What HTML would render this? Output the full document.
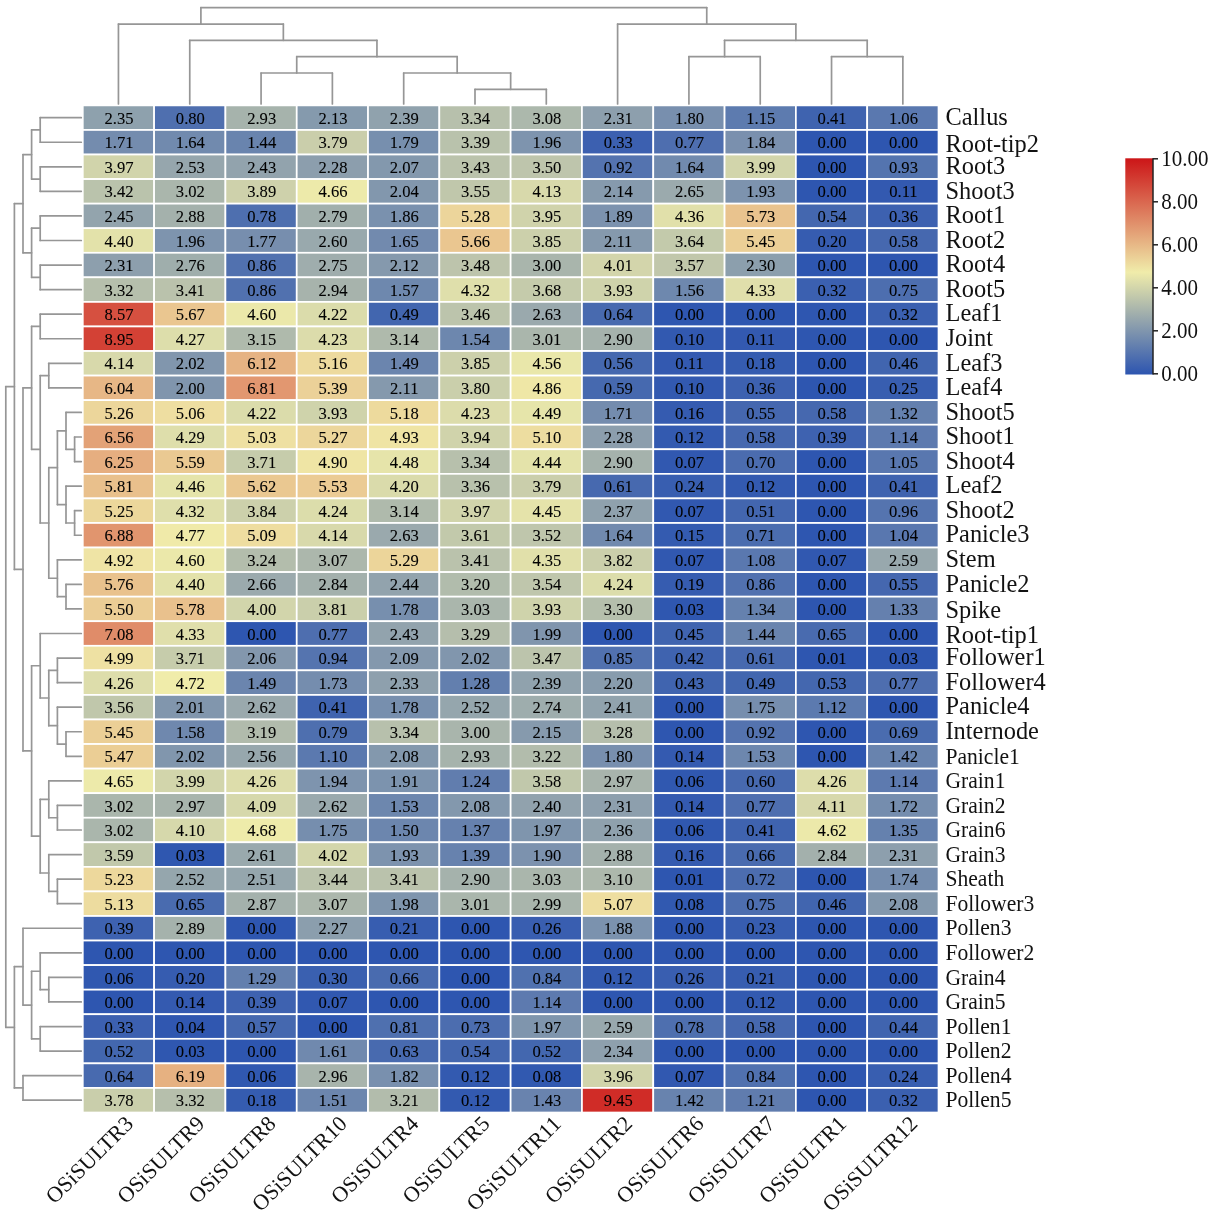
<!DOCTYPE html>
<html><head><meta charset="utf-8"><title>Heatmap</title>
<style>html,body{margin:0;padding:0;background:#fff}svg{display:block;will-change:transform}</style></head>
<body>
<svg width="1214" height="1217" viewBox="0 0 1214 1217" font-family="'Liberation Serif', serif">
<rect width="1214" height="1217" fill="#fff"/>
<g stroke="#fff" stroke-width="1.70">
<rect x="82.80" y="105.40" width="71.31" height="24.56" fill="#8ea1ad"/>
<rect x="154.11" y="105.40" width="71.31" height="24.56" fill="#4f6faf"/>
<rect x="225.42" y="105.40" width="71.31" height="24.56" fill="#a6b3ac"/>
<rect x="296.73" y="105.40" width="71.31" height="24.56" fill="#859aad"/>
<rect x="368.03" y="105.40" width="71.31" height="24.56" fill="#90a2ad"/>
<rect x="439.34" y="105.40" width="71.31" height="24.56" fill="#b7c0ac"/>
<rect x="510.65" y="105.40" width="71.31" height="24.56" fill="#acb8ac"/>
<rect x="581.96" y="105.40" width="71.31" height="24.56" fill="#8d9fad"/>
<rect x="653.27" y="105.40" width="71.31" height="24.56" fill="#788fae"/>
<rect x="724.58" y="105.40" width="71.31" height="24.56" fill="#5d7baf"/>
<rect x="795.88" y="105.40" width="71.31" height="24.56" fill="#3f63af"/>
<rect x="867.19" y="105.40" width="71.31" height="24.56" fill="#5a78af"/>
<rect x="82.80" y="129.96" width="71.31" height="24.56" fill="#748cae"/>
<rect x="154.11" y="129.96" width="71.31" height="24.56" fill="#718aae"/>
<rect x="225.42" y="129.96" width="71.31" height="24.56" fill="#6984ae"/>
<rect x="296.73" y="129.96" width="71.31" height="24.56" fill="#caceab"/>
<rect x="368.03" y="129.96" width="71.31" height="24.56" fill="#778fae"/>
<rect x="439.34" y="129.96" width="71.31" height="24.56" fill="#b9c2ac"/>
<rect x="510.65" y="129.96" width="71.31" height="24.56" fill="#7e94ae"/>
<rect x="581.96" y="129.96" width="71.31" height="24.56" fill="#3c60b0"/>
<rect x="653.27" y="129.96" width="71.31" height="24.56" fill="#4e6eaf"/>
<rect x="724.58" y="129.96" width="71.31" height="24.56" fill="#7a90ae"/>
<rect x="795.88" y="129.96" width="71.31" height="24.56" fill="#2e56b0"/>
<rect x="867.19" y="129.96" width="71.31" height="24.56" fill="#2e56b0"/>
<rect x="82.80" y="154.53" width="71.31" height="24.56" fill="#d1d4ab"/>
<rect x="154.11" y="154.53" width="71.31" height="24.56" fill="#96a6ad"/>
<rect x="225.42" y="154.53" width="71.31" height="24.56" fill="#92a3ad"/>
<rect x="296.73" y="154.53" width="71.31" height="24.56" fill="#8c9ead"/>
<rect x="368.03" y="154.53" width="71.31" height="24.56" fill="#8398ad"/>
<rect x="439.34" y="154.53" width="71.31" height="24.56" fill="#bbc3ac"/>
<rect x="510.65" y="154.53" width="71.31" height="24.56" fill="#bec5ac"/>
<rect x="581.96" y="154.53" width="71.31" height="24.56" fill="#5473af"/>
<rect x="653.27" y="154.53" width="71.31" height="24.56" fill="#718aae"/>
<rect x="724.58" y="154.53" width="71.31" height="24.56" fill="#d2d5ab"/>
<rect x="795.88" y="154.53" width="71.31" height="24.56" fill="#2e56b0"/>
<rect x="867.19" y="154.53" width="71.31" height="24.56" fill="#5474af"/>
<rect x="82.80" y="179.09" width="71.31" height="24.56" fill="#bac3ac"/>
<rect x="154.11" y="179.09" width="71.31" height="24.56" fill="#aab6ac"/>
<rect x="225.42" y="179.09" width="71.31" height="24.56" fill="#ced1ab"/>
<rect x="296.73" y="179.09" width="71.31" height="24.56" fill="#edeaaa"/>
<rect x="368.03" y="179.09" width="71.31" height="24.56" fill="#8297ad"/>
<rect x="439.34" y="179.09" width="71.31" height="24.56" fill="#c0c7ab"/>
<rect x="510.65" y="179.09" width="71.31" height="24.56" fill="#d8d9ab"/>
<rect x="581.96" y="179.09" width="71.31" height="24.56" fill="#869aad"/>
<rect x="653.27" y="179.09" width="71.31" height="24.56" fill="#9baaad"/>
<rect x="724.58" y="179.09" width="71.31" height="24.56" fill="#7d93ae"/>
<rect x="795.88" y="179.09" width="71.31" height="24.56" fill="#2e56b0"/>
<rect x="867.19" y="179.09" width="71.31" height="24.56" fill="#3359b0"/>
<rect x="82.80" y="203.65" width="71.31" height="24.56" fill="#93a4ad"/>
<rect x="154.11" y="203.65" width="71.31" height="24.56" fill="#a4b1ac"/>
<rect x="225.42" y="203.65" width="71.31" height="24.56" fill="#4e6faf"/>
<rect x="296.73" y="203.65" width="71.31" height="24.56" fill="#a1afac"/>
<rect x="368.03" y="203.65" width="71.31" height="24.56" fill="#7a91ae"/>
<rect x="439.34" y="203.65" width="71.31" height="24.56" fill="#ecd59b"/>
<rect x="510.65" y="203.65" width="71.31" height="24.56" fill="#d0d3ab"/>
<rect x="581.96" y="203.65" width="71.31" height="24.56" fill="#7c92ae"/>
<rect x="653.27" y="203.65" width="71.31" height="24.56" fill="#e1e0aa"/>
<rect x="724.58" y="203.65" width="71.31" height="24.56" fill="#e9c38e"/>
<rect x="795.88" y="203.65" width="71.31" height="24.56" fill="#4467af"/>
<rect x="867.19" y="203.65" width="71.31" height="24.56" fill="#3d61b0"/>
<rect x="82.80" y="228.22" width="71.31" height="24.56" fill="#e3e2aa"/>
<rect x="154.11" y="228.22" width="71.31" height="24.56" fill="#7e94ae"/>
<rect x="225.42" y="228.22" width="71.31" height="24.56" fill="#778eae"/>
<rect x="296.73" y="228.22" width="71.31" height="24.56" fill="#99a9ad"/>
<rect x="368.03" y="228.22" width="71.31" height="24.56" fill="#728aae"/>
<rect x="439.34" y="228.22" width="71.31" height="24.56" fill="#eac690"/>
<rect x="510.65" y="228.22" width="71.31" height="24.56" fill="#ccd0ab"/>
<rect x="581.96" y="228.22" width="71.31" height="24.56" fill="#8599ad"/>
<rect x="653.27" y="228.22" width="71.31" height="24.56" fill="#c3caab"/>
<rect x="724.58" y="228.22" width="71.31" height="24.56" fill="#ebcf96"/>
<rect x="795.88" y="228.22" width="71.31" height="24.56" fill="#365cb0"/>
<rect x="867.19" y="228.22" width="71.31" height="24.56" fill="#4668af"/>
<rect x="82.80" y="252.78" width="71.31" height="24.56" fill="#8d9fad"/>
<rect x="154.11" y="252.78" width="71.31" height="24.56" fill="#9faeac"/>
<rect x="225.42" y="252.78" width="71.31" height="24.56" fill="#5171af"/>
<rect x="296.73" y="252.78" width="71.31" height="24.56" fill="#9fadad"/>
<rect x="368.03" y="252.78" width="71.31" height="24.56" fill="#8599ad"/>
<rect x="439.34" y="252.78" width="71.31" height="24.56" fill="#bdc4ac"/>
<rect x="510.65" y="252.78" width="71.31" height="24.56" fill="#a9b5ac"/>
<rect x="581.96" y="252.78" width="71.31" height="24.56" fill="#d3d5ab"/>
<rect x="653.27" y="252.78" width="71.31" height="24.56" fill="#c1c7ab"/>
<rect x="724.58" y="252.78" width="71.31" height="24.56" fill="#8c9fad"/>
<rect x="795.88" y="252.78" width="71.31" height="24.56" fill="#2e56b0"/>
<rect x="867.19" y="252.78" width="71.31" height="24.56" fill="#2e56b0"/>
<rect x="82.80" y="277.34" width="71.31" height="24.56" fill="#b6bfac"/>
<rect x="154.11" y="277.34" width="71.31" height="24.56" fill="#bac2ac"/>
<rect x="225.42" y="277.34" width="71.31" height="24.56" fill="#5171af"/>
<rect x="296.73" y="277.34" width="71.31" height="24.56" fill="#a7b3ac"/>
<rect x="368.03" y="277.34" width="71.31" height="24.56" fill="#6e88ae"/>
<rect x="439.34" y="277.34" width="71.31" height="24.56" fill="#dfdfab"/>
<rect x="510.65" y="277.34" width="71.31" height="24.56" fill="#c5cbab"/>
<rect x="581.96" y="277.34" width="71.31" height="24.56" fill="#cfd3ab"/>
<rect x="653.27" y="277.34" width="71.31" height="24.56" fill="#6e88ae"/>
<rect x="724.58" y="277.34" width="71.31" height="24.56" fill="#e0dfab"/>
<rect x="795.88" y="277.34" width="71.31" height="24.56" fill="#3b60b0"/>
<rect x="867.19" y="277.34" width="71.31" height="24.56" fill="#4d6eaf"/>
<rect x="82.80" y="301.91" width="71.31" height="24.56" fill="#d65040"/>
<rect x="154.11" y="301.91" width="71.31" height="24.56" fill="#eac690"/>
<rect x="225.42" y="301.91" width="71.31" height="24.56" fill="#ebe8aa"/>
<rect x="296.73" y="301.91" width="71.31" height="24.56" fill="#dbdcab"/>
<rect x="368.03" y="301.91" width="71.31" height="24.56" fill="#4266af"/>
<rect x="439.34" y="301.91" width="71.31" height="24.56" fill="#bcc4ac"/>
<rect x="510.65" y="301.91" width="71.31" height="24.56" fill="#9aa9ad"/>
<rect x="581.96" y="301.91" width="71.31" height="24.56" fill="#486aaf"/>
<rect x="653.27" y="301.91" width="71.31" height="24.56" fill="#2e56b0"/>
<rect x="724.58" y="301.91" width="71.31" height="24.56" fill="#2e56b0"/>
<rect x="795.88" y="301.91" width="71.31" height="24.56" fill="#2e56b0"/>
<rect x="867.19" y="301.91" width="71.31" height="24.56" fill="#3b60b0"/>
<rect x="82.80" y="326.47" width="71.31" height="24.56" fill="#d34135"/>
<rect x="154.11" y="326.47" width="71.31" height="24.56" fill="#dddeab"/>
<rect x="225.42" y="326.47" width="71.31" height="24.56" fill="#afbaac"/>
<rect x="296.73" y="326.47" width="71.31" height="24.56" fill="#dcdcab"/>
<rect x="368.03" y="326.47" width="71.31" height="24.56" fill="#afbaac"/>
<rect x="439.34" y="326.47" width="71.31" height="24.56" fill="#6d87ae"/>
<rect x="510.65" y="326.47" width="71.31" height="24.56" fill="#aab6ac"/>
<rect x="581.96" y="326.47" width="71.31" height="24.56" fill="#a5b2ac"/>
<rect x="653.27" y="326.47" width="71.31" height="24.56" fill="#3259b0"/>
<rect x="724.58" y="326.47" width="71.31" height="24.56" fill="#3359b0"/>
<rect x="795.88" y="326.47" width="71.31" height="24.56" fill="#2e56b0"/>
<rect x="867.19" y="326.47" width="71.31" height="24.56" fill="#2e56b0"/>
<rect x="82.80" y="351.03" width="71.31" height="24.56" fill="#d8d9ab"/>
<rect x="154.11" y="351.03" width="71.31" height="24.56" fill="#8196ad"/>
<rect x="225.42" y="351.03" width="71.31" height="24.56" fill="#e6b383"/>
<rect x="296.73" y="351.03" width="71.31" height="24.56" fill="#edda9e"/>
<rect x="368.03" y="351.03" width="71.31" height="24.56" fill="#6b85ae"/>
<rect x="439.34" y="351.03" width="71.31" height="24.56" fill="#ccd0ab"/>
<rect x="510.65" y="351.03" width="71.31" height="24.56" fill="#e9e7aa"/>
<rect x="581.96" y="351.03" width="71.31" height="24.56" fill="#4568af"/>
<rect x="653.27" y="351.03" width="71.31" height="24.56" fill="#3359b0"/>
<rect x="724.58" y="351.03" width="71.31" height="24.56" fill="#355cb0"/>
<rect x="795.88" y="351.03" width="71.31" height="24.56" fill="#2e56b0"/>
<rect x="867.19" y="351.03" width="71.31" height="24.56" fill="#4165af"/>
<rect x="82.80" y="375.60" width="71.31" height="24.56" fill="#e7b786"/>
<rect x="154.11" y="375.60" width="71.31" height="24.56" fill="#8095ad"/>
<rect x="225.42" y="375.60" width="71.31" height="24.56" fill="#e29770"/>
<rect x="296.73" y="375.60" width="71.31" height="24.56" fill="#ebd198"/>
<rect x="368.03" y="375.60" width="71.31" height="24.56" fill="#8599ad"/>
<rect x="439.34" y="375.60" width="71.31" height="24.56" fill="#cacfab"/>
<rect x="510.65" y="375.60" width="71.31" height="24.56" fill="#efe7a6"/>
<rect x="581.96" y="375.60" width="71.31" height="24.56" fill="#4669af"/>
<rect x="653.27" y="375.60" width="71.31" height="24.56" fill="#3259b0"/>
<rect x="724.58" y="375.60" width="71.31" height="24.56" fill="#3d61b0"/>
<rect x="795.88" y="375.60" width="71.31" height="24.56" fill="#2e56b0"/>
<rect x="867.19" y="375.60" width="71.31" height="24.56" fill="#385eb0"/>
<rect x="82.80" y="400.16" width="71.31" height="24.56" fill="#ecd69b"/>
<rect x="154.11" y="400.16" width="71.31" height="24.56" fill="#eedea1"/>
<rect x="225.42" y="400.16" width="71.31" height="24.56" fill="#dbdcab"/>
<rect x="296.73" y="400.16" width="71.31" height="24.56" fill="#cfd3ab"/>
<rect x="368.03" y="400.16" width="71.31" height="24.56" fill="#edda9d"/>
<rect x="439.34" y="400.16" width="71.31" height="24.56" fill="#dcdcab"/>
<rect x="510.65" y="400.16" width="71.31" height="24.56" fill="#e6e5aa"/>
<rect x="581.96" y="400.16" width="71.31" height="24.56" fill="#748cae"/>
<rect x="653.27" y="400.16" width="71.31" height="24.56" fill="#355bb0"/>
<rect x="724.58" y="400.16" width="71.31" height="24.56" fill="#4567af"/>
<rect x="795.88" y="400.16" width="71.31" height="24.56" fill="#4668af"/>
<rect x="867.19" y="400.16" width="71.31" height="24.56" fill="#6480ae"/>
<rect x="82.80" y="424.72" width="71.31" height="24.56" fill="#e3a277"/>
<rect x="154.11" y="424.72" width="71.31" height="24.56" fill="#dedeab"/>
<rect x="225.42" y="424.72" width="71.31" height="24.56" fill="#eee0a2"/>
<rect x="296.73" y="424.72" width="71.31" height="24.56" fill="#ecd69b"/>
<rect x="368.03" y="424.72" width="71.31" height="24.56" fill="#efe4a4"/>
<rect x="439.34" y="424.72" width="71.31" height="24.56" fill="#d0d3ab"/>
<rect x="510.65" y="424.72" width="71.31" height="24.56" fill="#eddda0"/>
<rect x="581.96" y="424.72" width="71.31" height="24.56" fill="#8c9ead"/>
<rect x="653.27" y="424.72" width="71.31" height="24.56" fill="#335ab0"/>
<rect x="724.58" y="424.72" width="71.31" height="24.56" fill="#4668af"/>
<rect x="795.88" y="424.72" width="71.31" height="24.56" fill="#3e62b0"/>
<rect x="867.19" y="424.72" width="71.31" height="24.56" fill="#5d7aaf"/>
<rect x="82.80" y="449.29" width="71.31" height="24.56" fill="#e6ae80"/>
<rect x="154.11" y="449.29" width="71.31" height="24.56" fill="#eac992"/>
<rect x="225.42" y="449.29" width="71.31" height="24.56" fill="#c6ccab"/>
<rect x="296.73" y="449.29" width="71.31" height="24.56" fill="#efe5a5"/>
<rect x="368.03" y="449.29" width="71.31" height="24.56" fill="#e6e4aa"/>
<rect x="439.34" y="449.29" width="71.31" height="24.56" fill="#b7c0ac"/>
<rect x="510.65" y="449.29" width="71.31" height="24.56" fill="#e4e3aa"/>
<rect x="581.96" y="449.29" width="71.31" height="24.56" fill="#a5b2ac"/>
<rect x="653.27" y="449.29" width="71.31" height="24.56" fill="#3158b0"/>
<rect x="724.58" y="449.29" width="71.31" height="24.56" fill="#4b6caf"/>
<rect x="795.88" y="449.29" width="71.31" height="24.56" fill="#2e56b0"/>
<rect x="867.19" y="449.29" width="71.31" height="24.56" fill="#5977af"/>
<rect x="82.80" y="473.85" width="71.31" height="24.56" fill="#e9c08c"/>
<rect x="154.11" y="473.85" width="71.31" height="24.56" fill="#e5e4aa"/>
<rect x="225.42" y="473.85" width="71.31" height="24.56" fill="#eac891"/>
<rect x="296.73" y="473.85" width="71.31" height="24.56" fill="#ebcb94"/>
<rect x="368.03" y="473.85" width="71.31" height="24.56" fill="#dadbab"/>
<rect x="439.34" y="473.85" width="71.31" height="24.56" fill="#b8c1ac"/>
<rect x="510.65" y="473.85" width="71.31" height="24.56" fill="#caceab"/>
<rect x="581.96" y="473.85" width="71.31" height="24.56" fill="#4769af"/>
<rect x="653.27" y="473.85" width="71.31" height="24.56" fill="#385eb0"/>
<rect x="724.58" y="473.85" width="71.31" height="24.56" fill="#335ab0"/>
<rect x="795.88" y="473.85" width="71.31" height="24.56" fill="#2e56b0"/>
<rect x="867.19" y="473.85" width="71.31" height="24.56" fill="#3f63af"/>
<rect x="82.80" y="498.41" width="71.31" height="24.56" fill="#ecd79b"/>
<rect x="154.11" y="498.41" width="71.31" height="24.56" fill="#dfdfab"/>
<rect x="225.42" y="498.41" width="71.31" height="24.56" fill="#ccd0ab"/>
<rect x="296.73" y="498.41" width="71.31" height="24.56" fill="#dcddab"/>
<rect x="368.03" y="498.41" width="71.31" height="24.56" fill="#afbaac"/>
<rect x="439.34" y="498.41" width="71.31" height="24.56" fill="#d1d4ab"/>
<rect x="510.65" y="498.41" width="71.31" height="24.56" fill="#e5e3aa"/>
<rect x="581.96" y="498.41" width="71.31" height="24.56" fill="#8fa1ad"/>
<rect x="653.27" y="498.41" width="71.31" height="24.56" fill="#3158b0"/>
<rect x="724.58" y="498.41" width="71.31" height="24.56" fill="#4366af"/>
<rect x="795.88" y="498.41" width="71.31" height="24.56" fill="#2e56b0"/>
<rect x="867.19" y="498.41" width="71.31" height="24.56" fill="#5574af"/>
<rect x="82.80" y="522.98" width="71.31" height="24.56" fill="#e1956e"/>
<rect x="154.11" y="522.98" width="71.31" height="24.56" fill="#f0eaa9"/>
<rect x="225.42" y="522.98" width="71.31" height="24.56" fill="#eedda0"/>
<rect x="296.73" y="522.98" width="71.31" height="24.56" fill="#d8d9ab"/>
<rect x="368.03" y="522.98" width="71.31" height="24.56" fill="#9aa9ad"/>
<rect x="439.34" y="522.98" width="71.31" height="24.56" fill="#c2c9ab"/>
<rect x="510.65" y="522.98" width="71.31" height="24.56" fill="#bfc6ac"/>
<rect x="581.96" y="522.98" width="71.31" height="24.56" fill="#718aae"/>
<rect x="653.27" y="522.98" width="71.31" height="24.56" fill="#345bb0"/>
<rect x="724.58" y="522.98" width="71.31" height="24.56" fill="#4b6daf"/>
<rect x="795.88" y="522.98" width="71.31" height="24.56" fill="#2e56b0"/>
<rect x="867.19" y="522.98" width="71.31" height="24.56" fill="#5977af"/>
<rect x="82.80" y="547.54" width="71.31" height="24.56" fill="#efe4a5"/>
<rect x="154.11" y="547.54" width="71.31" height="24.56" fill="#ebe8aa"/>
<rect x="225.42" y="547.54" width="71.31" height="24.56" fill="#b3bdac"/>
<rect x="296.73" y="547.54" width="71.31" height="24.56" fill="#acb7ac"/>
<rect x="368.03" y="547.54" width="71.31" height="24.56" fill="#ecd59a"/>
<rect x="439.34" y="547.54" width="71.31" height="24.56" fill="#bac2ac"/>
<rect x="510.65" y="547.54" width="71.31" height="24.56" fill="#e1e0aa"/>
<rect x="581.96" y="547.54" width="71.31" height="24.56" fill="#cbcfab"/>
<rect x="653.27" y="547.54" width="71.31" height="24.56" fill="#3158b0"/>
<rect x="724.58" y="547.54" width="71.31" height="24.56" fill="#5a78af"/>
<rect x="795.88" y="547.54" width="71.31" height="24.56" fill="#3158b0"/>
<rect x="867.19" y="547.54" width="71.31" height="24.56" fill="#98a8ad"/>
<rect x="82.80" y="572.10" width="71.31" height="24.56" fill="#e9c28d"/>
<rect x="154.11" y="572.10" width="71.31" height="24.56" fill="#e3e2aa"/>
<rect x="225.42" y="572.10" width="71.31" height="24.56" fill="#9baaad"/>
<rect x="296.73" y="572.10" width="71.31" height="24.56" fill="#a3b0ac"/>
<rect x="368.03" y="572.10" width="71.31" height="24.56" fill="#92a3ad"/>
<rect x="439.34" y="572.10" width="71.31" height="24.56" fill="#b1bcac"/>
<rect x="510.65" y="572.10" width="71.31" height="24.56" fill="#bfc6ac"/>
<rect x="581.96" y="572.10" width="71.31" height="24.56" fill="#dcddab"/>
<rect x="653.27" y="572.10" width="71.31" height="24.56" fill="#365cb0"/>
<rect x="724.58" y="572.10" width="71.31" height="24.56" fill="#5171af"/>
<rect x="795.88" y="572.10" width="71.31" height="24.56" fill="#2e56b0"/>
<rect x="867.19" y="572.10" width="71.31" height="24.56" fill="#4567af"/>
<rect x="82.80" y="596.67" width="71.31" height="24.56" fill="#ebcd95"/>
<rect x="154.11" y="596.67" width="71.31" height="24.56" fill="#e9c18d"/>
<rect x="225.42" y="596.67" width="71.31" height="24.56" fill="#d2d5ab"/>
<rect x="296.73" y="596.67" width="71.31" height="24.56" fill="#cacfab"/>
<rect x="368.03" y="596.67" width="71.31" height="24.56" fill="#778fae"/>
<rect x="439.34" y="596.67" width="71.31" height="24.56" fill="#aab6ac"/>
<rect x="510.65" y="596.67" width="71.31" height="24.56" fill="#cfd3ab"/>
<rect x="581.96" y="596.67" width="71.31" height="24.56" fill="#b5bfac"/>
<rect x="653.27" y="596.67" width="71.31" height="24.56" fill="#2f57b0"/>
<rect x="724.58" y="596.67" width="71.31" height="24.56" fill="#6581ae"/>
<rect x="795.88" y="596.67" width="71.31" height="24.56" fill="#2e56b0"/>
<rect x="867.19" y="596.67" width="71.31" height="24.56" fill="#6580ae"/>
<rect x="82.80" y="621.23" width="71.31" height="24.56" fill="#e08c69"/>
<rect x="154.11" y="621.23" width="71.31" height="24.56" fill="#e0dfab"/>
<rect x="225.42" y="621.23" width="71.31" height="24.56" fill="#2e56b0"/>
<rect x="296.73" y="621.23" width="71.31" height="24.56" fill="#4e6eaf"/>
<rect x="368.03" y="621.23" width="71.31" height="24.56" fill="#92a3ad"/>
<rect x="439.34" y="621.23" width="71.31" height="24.56" fill="#b5beac"/>
<rect x="510.65" y="621.23" width="71.31" height="24.56" fill="#8095ad"/>
<rect x="581.96" y="621.23" width="71.31" height="24.56" fill="#2e56b0"/>
<rect x="653.27" y="621.23" width="71.31" height="24.56" fill="#4064af"/>
<rect x="724.58" y="621.23" width="71.31" height="24.56" fill="#6984ae"/>
<rect x="795.88" y="621.23" width="71.31" height="24.56" fill="#496baf"/>
<rect x="867.19" y="621.23" width="71.31" height="24.56" fill="#2e56b0"/>
<rect x="82.80" y="645.80" width="71.31" height="24.56" fill="#eee1a3"/>
<rect x="154.11" y="645.80" width="71.31" height="24.56" fill="#c6ccab"/>
<rect x="225.42" y="645.80" width="71.31" height="24.56" fill="#8397ad"/>
<rect x="296.73" y="645.80" width="71.31" height="24.56" fill="#5574af"/>
<rect x="368.03" y="645.80" width="71.31" height="24.56" fill="#8498ad"/>
<rect x="439.34" y="645.80" width="71.31" height="24.56" fill="#8196ad"/>
<rect x="510.65" y="645.80" width="71.31" height="24.56" fill="#bcc4ac"/>
<rect x="581.96" y="645.80" width="71.31" height="24.56" fill="#5171af"/>
<rect x="653.27" y="645.80" width="71.31" height="24.56" fill="#3f63af"/>
<rect x="724.58" y="645.80" width="71.31" height="24.56" fill="#4769af"/>
<rect x="795.88" y="645.80" width="71.31" height="24.56" fill="#2e56b0"/>
<rect x="867.19" y="645.80" width="71.31" height="24.56" fill="#2f57b0"/>
<rect x="82.80" y="670.36" width="71.31" height="24.56" fill="#ddddab"/>
<rect x="154.11" y="670.36" width="71.31" height="24.56" fill="#f0ecaa"/>
<rect x="225.42" y="670.36" width="71.31" height="24.56" fill="#6b85ae"/>
<rect x="296.73" y="670.36" width="71.31" height="24.56" fill="#758dae"/>
<rect x="368.03" y="670.36" width="71.31" height="24.56" fill="#8ea0ad"/>
<rect x="439.34" y="670.36" width="71.31" height="24.56" fill="#637fae"/>
<rect x="510.65" y="670.36" width="71.31" height="24.56" fill="#90a2ad"/>
<rect x="581.96" y="670.36" width="71.31" height="24.56" fill="#889cad"/>
<rect x="653.27" y="670.36" width="71.31" height="24.56" fill="#4064af"/>
<rect x="724.58" y="670.36" width="71.31" height="24.56" fill="#4266af"/>
<rect x="795.88" y="670.36" width="71.31" height="24.56" fill="#4467af"/>
<rect x="867.19" y="670.36" width="71.31" height="24.56" fill="#4e6eaf"/>
<rect x="82.80" y="694.92" width="71.31" height="24.56" fill="#c0c7ab"/>
<rect x="154.11" y="694.92" width="71.31" height="24.56" fill="#8196ad"/>
<rect x="225.42" y="694.92" width="71.31" height="24.56" fill="#9aa9ad"/>
<rect x="296.73" y="694.92" width="71.31" height="24.56" fill="#3f63af"/>
<rect x="368.03" y="694.92" width="71.31" height="24.56" fill="#778fae"/>
<rect x="439.34" y="694.92" width="71.31" height="24.56" fill="#95a6ad"/>
<rect x="510.65" y="694.92" width="71.31" height="24.56" fill="#9eadad"/>
<rect x="581.96" y="694.92" width="71.31" height="24.56" fill="#91a3ad"/>
<rect x="653.27" y="694.92" width="71.31" height="24.56" fill="#2e56b0"/>
<rect x="724.58" y="694.92" width="71.31" height="24.56" fill="#768eae"/>
<rect x="795.88" y="694.92" width="71.31" height="24.56" fill="#5c7aaf"/>
<rect x="867.19" y="694.92" width="71.31" height="24.56" fill="#2e56b0"/>
<rect x="82.80" y="719.49" width="71.31" height="24.56" fill="#ebcf96"/>
<rect x="154.11" y="719.49" width="71.31" height="24.56" fill="#6f88ae"/>
<rect x="225.42" y="719.49" width="71.31" height="24.56" fill="#b1bbac"/>
<rect x="296.73" y="719.49" width="71.31" height="24.56" fill="#4e6faf"/>
<rect x="368.03" y="719.49" width="71.31" height="24.56" fill="#b7c0ac"/>
<rect x="439.34" y="719.49" width="71.31" height="24.56" fill="#a9b5ac"/>
<rect x="510.65" y="719.49" width="71.31" height="24.56" fill="#869aad"/>
<rect x="581.96" y="719.49" width="71.31" height="24.56" fill="#b5beac"/>
<rect x="653.27" y="719.49" width="71.31" height="24.56" fill="#2e56b0"/>
<rect x="724.58" y="719.49" width="71.31" height="24.56" fill="#5473af"/>
<rect x="795.88" y="719.49" width="71.31" height="24.56" fill="#2e56b0"/>
<rect x="867.19" y="719.49" width="71.31" height="24.56" fill="#4a6caf"/>
<rect x="82.80" y="744.05" width="71.31" height="24.56" fill="#ebce95"/>
<rect x="154.11" y="744.05" width="71.31" height="24.56" fill="#8196ad"/>
<rect x="225.42" y="744.05" width="71.31" height="24.56" fill="#97a7ad"/>
<rect x="296.73" y="744.05" width="71.31" height="24.56" fill="#5b79af"/>
<rect x="368.03" y="744.05" width="71.31" height="24.56" fill="#8398ad"/>
<rect x="439.34" y="744.05" width="71.31" height="24.56" fill="#a6b3ac"/>
<rect x="510.65" y="744.05" width="71.31" height="24.56" fill="#b2bcac"/>
<rect x="581.96" y="744.05" width="71.31" height="24.56" fill="#788fae"/>
<rect x="653.27" y="744.05" width="71.31" height="24.56" fill="#345ab0"/>
<rect x="724.58" y="744.05" width="71.31" height="24.56" fill="#6d87ae"/>
<rect x="795.88" y="744.05" width="71.31" height="24.56" fill="#2e56b0"/>
<rect x="867.19" y="744.05" width="71.31" height="24.56" fill="#6883ae"/>
<rect x="82.80" y="768.61" width="71.31" height="24.56" fill="#edeaaa"/>
<rect x="154.11" y="768.61" width="71.31" height="24.56" fill="#d2d5ab"/>
<rect x="225.42" y="768.61" width="71.31" height="24.56" fill="#ddddab"/>
<rect x="296.73" y="768.61" width="71.31" height="24.56" fill="#7e94ae"/>
<rect x="368.03" y="768.61" width="71.31" height="24.56" fill="#7c93ae"/>
<rect x="439.34" y="768.61" width="71.31" height="24.56" fill="#617dae"/>
<rect x="510.65" y="768.61" width="71.31" height="24.56" fill="#c1c8ab"/>
<rect x="581.96" y="768.61" width="71.31" height="24.56" fill="#a8b4ac"/>
<rect x="653.27" y="768.61" width="71.31" height="24.56" fill="#3058b0"/>
<rect x="724.58" y="768.61" width="71.31" height="24.56" fill="#4769af"/>
<rect x="795.88" y="768.61" width="71.31" height="24.56" fill="#ddddab"/>
<rect x="867.19" y="768.61" width="71.31" height="24.56" fill="#5d7aaf"/>
<rect x="82.80" y="793.18" width="71.31" height="24.56" fill="#aab6ac"/>
<rect x="154.11" y="793.18" width="71.31" height="24.56" fill="#a8b4ac"/>
<rect x="225.42" y="793.18" width="71.31" height="24.56" fill="#d6d8ab"/>
<rect x="296.73" y="793.18" width="71.31" height="24.56" fill="#9aa9ad"/>
<rect x="368.03" y="793.18" width="71.31" height="24.56" fill="#6d87ae"/>
<rect x="439.34" y="793.18" width="71.31" height="24.56" fill="#8398ad"/>
<rect x="510.65" y="793.18" width="71.31" height="24.56" fill="#91a2ad"/>
<rect x="581.96" y="793.18" width="71.31" height="24.56" fill="#8d9fad"/>
<rect x="653.27" y="793.18" width="71.31" height="24.56" fill="#345ab0"/>
<rect x="724.58" y="793.18" width="71.31" height="24.56" fill="#4e6eaf"/>
<rect x="795.88" y="793.18" width="71.31" height="24.56" fill="#d7d8ab"/>
<rect x="867.19" y="793.18" width="71.31" height="24.56" fill="#758dae"/>
<rect x="82.80" y="817.74" width="71.31" height="24.56" fill="#aab6ac"/>
<rect x="154.11" y="817.74" width="71.31" height="24.56" fill="#d6d8ab"/>
<rect x="225.42" y="817.74" width="71.31" height="24.56" fill="#eeebaa"/>
<rect x="296.73" y="817.74" width="71.31" height="24.56" fill="#768eae"/>
<rect x="368.03" y="817.74" width="71.31" height="24.56" fill="#6c86ae"/>
<rect x="439.34" y="817.74" width="71.31" height="24.56" fill="#6681ae"/>
<rect x="510.65" y="817.74" width="71.31" height="24.56" fill="#7f95ad"/>
<rect x="581.96" y="817.74" width="71.31" height="24.56" fill="#8fa1ad"/>
<rect x="653.27" y="817.74" width="71.31" height="24.56" fill="#3058b0"/>
<rect x="724.58" y="817.74" width="71.31" height="24.56" fill="#3f63af"/>
<rect x="795.88" y="817.74" width="71.31" height="24.56" fill="#ece9aa"/>
<rect x="867.19" y="817.74" width="71.31" height="24.56" fill="#6581ae"/>
<rect x="82.80" y="842.30" width="71.31" height="24.56" fill="#c1c8ab"/>
<rect x="154.11" y="842.30" width="71.31" height="24.56" fill="#2f57b0"/>
<rect x="225.42" y="842.30" width="71.31" height="24.56" fill="#99a9ad"/>
<rect x="296.73" y="842.30" width="71.31" height="24.56" fill="#d3d6ab"/>
<rect x="368.03" y="842.30" width="71.31" height="24.56" fill="#7d93ae"/>
<rect x="439.34" y="842.30" width="71.31" height="24.56" fill="#6782ae"/>
<rect x="510.65" y="842.30" width="71.31" height="24.56" fill="#7c92ae"/>
<rect x="581.96" y="842.30" width="71.31" height="24.56" fill="#a4b1ac"/>
<rect x="653.27" y="842.30" width="71.31" height="24.56" fill="#355bb0"/>
<rect x="724.58" y="842.30" width="71.31" height="24.56" fill="#496baf"/>
<rect x="795.88" y="842.30" width="71.31" height="24.56" fill="#a3b0ac"/>
<rect x="867.19" y="842.30" width="71.31" height="24.56" fill="#8d9fad"/>
<rect x="82.80" y="866.87" width="71.31" height="24.56" fill="#edd89c"/>
<rect x="154.11" y="866.87" width="71.31" height="24.56" fill="#95a6ad"/>
<rect x="225.42" y="866.87" width="71.31" height="24.56" fill="#95a6ad"/>
<rect x="296.73" y="866.87" width="71.31" height="24.56" fill="#bbc3ac"/>
<rect x="368.03" y="866.87" width="71.31" height="24.56" fill="#bac2ac"/>
<rect x="439.34" y="866.87" width="71.31" height="24.56" fill="#a5b2ac"/>
<rect x="510.65" y="866.87" width="71.31" height="24.56" fill="#aab6ac"/>
<rect x="581.96" y="866.87" width="71.31" height="24.56" fill="#adb8ac"/>
<rect x="653.27" y="866.87" width="71.31" height="24.56" fill="#2e56b0"/>
<rect x="724.58" y="866.87" width="71.31" height="24.56" fill="#4c6daf"/>
<rect x="795.88" y="866.87" width="71.31" height="24.56" fill="#2e56b0"/>
<rect x="867.19" y="866.87" width="71.31" height="24.56" fill="#758dae"/>
<rect x="82.80" y="891.43" width="71.31" height="24.56" fill="#eddc9f"/>
<rect x="154.11" y="891.43" width="71.31" height="24.56" fill="#496baf"/>
<rect x="225.42" y="891.43" width="71.31" height="24.56" fill="#a4b1ac"/>
<rect x="296.73" y="891.43" width="71.31" height="24.56" fill="#acb7ac"/>
<rect x="368.03" y="891.43" width="71.31" height="24.56" fill="#7f95ad"/>
<rect x="439.34" y="891.43" width="71.31" height="24.56" fill="#aab6ac"/>
<rect x="510.65" y="891.43" width="71.31" height="24.56" fill="#a9b5ac"/>
<rect x="581.96" y="891.43" width="71.31" height="24.56" fill="#eedea0"/>
<rect x="653.27" y="891.43" width="71.31" height="24.56" fill="#3159b0"/>
<rect x="724.58" y="891.43" width="71.31" height="24.56" fill="#4d6eaf"/>
<rect x="795.88" y="891.43" width="71.31" height="24.56" fill="#4165af"/>
<rect x="867.19" y="891.43" width="71.31" height="24.56" fill="#8398ad"/>
<rect x="82.80" y="915.99" width="71.31" height="24.56" fill="#3e62b0"/>
<rect x="154.11" y="915.99" width="71.31" height="24.56" fill="#a5b2ac"/>
<rect x="225.42" y="915.99" width="71.31" height="24.56" fill="#2e56b0"/>
<rect x="296.73" y="915.99" width="71.31" height="24.56" fill="#8b9ead"/>
<rect x="368.03" y="915.99" width="71.31" height="24.56" fill="#375db0"/>
<rect x="439.34" y="915.99" width="71.31" height="24.56" fill="#2e56b0"/>
<rect x="510.65" y="915.99" width="71.31" height="24.56" fill="#395eb0"/>
<rect x="581.96" y="915.99" width="71.31" height="24.56" fill="#7b92ae"/>
<rect x="653.27" y="915.99" width="71.31" height="24.56" fill="#2e56b0"/>
<rect x="724.58" y="915.99" width="71.31" height="24.56" fill="#375db0"/>
<rect x="795.88" y="915.99" width="71.31" height="24.56" fill="#2e56b0"/>
<rect x="867.19" y="915.99" width="71.31" height="24.56" fill="#2e56b0"/>
<rect x="82.80" y="940.56" width="71.31" height="24.56" fill="#2e56b0"/>
<rect x="154.11" y="940.56" width="71.31" height="24.56" fill="#2e56b0"/>
<rect x="225.42" y="940.56" width="71.31" height="24.56" fill="#2e56b0"/>
<rect x="296.73" y="940.56" width="71.31" height="24.56" fill="#2e56b0"/>
<rect x="368.03" y="940.56" width="71.31" height="24.56" fill="#2e56b0"/>
<rect x="439.34" y="940.56" width="71.31" height="24.56" fill="#2e56b0"/>
<rect x="510.65" y="940.56" width="71.31" height="24.56" fill="#2e56b0"/>
<rect x="581.96" y="940.56" width="71.31" height="24.56" fill="#2e56b0"/>
<rect x="653.27" y="940.56" width="71.31" height="24.56" fill="#2e56b0"/>
<rect x="724.58" y="940.56" width="71.31" height="24.56" fill="#2e56b0"/>
<rect x="795.88" y="940.56" width="71.31" height="24.56" fill="#2e56b0"/>
<rect x="867.19" y="940.56" width="71.31" height="24.56" fill="#2e56b0"/>
<rect x="82.80" y="965.12" width="71.31" height="24.56" fill="#3058b0"/>
<rect x="154.11" y="965.12" width="71.31" height="24.56" fill="#365cb0"/>
<rect x="225.42" y="965.12" width="71.31" height="24.56" fill="#637fae"/>
<rect x="296.73" y="965.12" width="71.31" height="24.56" fill="#3a60b0"/>
<rect x="368.03" y="965.12" width="71.31" height="24.56" fill="#496baf"/>
<rect x="439.34" y="965.12" width="71.31" height="24.56" fill="#2e56b0"/>
<rect x="510.65" y="965.12" width="71.31" height="24.56" fill="#5071af"/>
<rect x="581.96" y="965.12" width="71.31" height="24.56" fill="#335ab0"/>
<rect x="653.27" y="965.12" width="71.31" height="24.56" fill="#395eb0"/>
<rect x="724.58" y="965.12" width="71.31" height="24.56" fill="#375db0"/>
<rect x="795.88" y="965.12" width="71.31" height="24.56" fill="#2e56b0"/>
<rect x="867.19" y="965.12" width="71.31" height="24.56" fill="#2e56b0"/>
<rect x="82.80" y="989.68" width="71.31" height="24.56" fill="#2e56b0"/>
<rect x="154.11" y="989.68" width="71.31" height="24.56" fill="#345ab0"/>
<rect x="225.42" y="989.68" width="71.31" height="24.56" fill="#3e62b0"/>
<rect x="296.73" y="989.68" width="71.31" height="24.56" fill="#3158b0"/>
<rect x="368.03" y="989.68" width="71.31" height="24.56" fill="#2e56b0"/>
<rect x="439.34" y="989.68" width="71.31" height="24.56" fill="#2e56b0"/>
<rect x="510.65" y="989.68" width="71.31" height="24.56" fill="#5d7aaf"/>
<rect x="581.96" y="989.68" width="71.31" height="24.56" fill="#2e56b0"/>
<rect x="653.27" y="989.68" width="71.31" height="24.56" fill="#2e56b0"/>
<rect x="724.58" y="989.68" width="71.31" height="24.56" fill="#335ab0"/>
<rect x="795.88" y="989.68" width="71.31" height="24.56" fill="#2e56b0"/>
<rect x="867.19" y="989.68" width="71.31" height="24.56" fill="#2e56b0"/>
<rect x="82.80" y="1014.25" width="71.31" height="24.56" fill="#3c60b0"/>
<rect x="154.11" y="1014.25" width="71.31" height="24.56" fill="#3057b0"/>
<rect x="225.42" y="1014.25" width="71.31" height="24.56" fill="#4568af"/>
<rect x="296.73" y="1014.25" width="71.31" height="24.56" fill="#2e56b0"/>
<rect x="368.03" y="1014.25" width="71.31" height="24.56" fill="#4f70af"/>
<rect x="439.34" y="1014.25" width="71.31" height="24.56" fill="#4c6daf"/>
<rect x="510.65" y="1014.25" width="71.31" height="24.56" fill="#7f95ad"/>
<rect x="581.96" y="1014.25" width="71.31" height="24.56" fill="#98a8ad"/>
<rect x="653.27" y="1014.25" width="71.31" height="24.56" fill="#4e6faf"/>
<rect x="724.58" y="1014.25" width="71.31" height="24.56" fill="#4668af"/>
<rect x="795.88" y="1014.25" width="71.31" height="24.56" fill="#2e56b0"/>
<rect x="867.19" y="1014.25" width="71.31" height="24.56" fill="#4064af"/>
<rect x="82.80" y="1038.81" width="71.31" height="24.56" fill="#4367af"/>
<rect x="154.11" y="1038.81" width="71.31" height="24.56" fill="#2f57b0"/>
<rect x="225.42" y="1038.81" width="71.31" height="24.56" fill="#2e56b0"/>
<rect x="296.73" y="1038.81" width="71.31" height="24.56" fill="#7089ae"/>
<rect x="368.03" y="1038.81" width="71.31" height="24.56" fill="#486aaf"/>
<rect x="439.34" y="1038.81" width="71.31" height="24.56" fill="#4467af"/>
<rect x="510.65" y="1038.81" width="71.31" height="24.56" fill="#4367af"/>
<rect x="581.96" y="1038.81" width="71.31" height="24.56" fill="#8ea0ad"/>
<rect x="653.27" y="1038.81" width="71.31" height="24.56" fill="#2e56b0"/>
<rect x="724.58" y="1038.81" width="71.31" height="24.56" fill="#2e56b0"/>
<rect x="795.88" y="1038.81" width="71.31" height="24.56" fill="#2e56b0"/>
<rect x="867.19" y="1038.81" width="71.31" height="24.56" fill="#2e56b0"/>
<rect x="82.80" y="1063.37" width="71.31" height="24.56" fill="#486aaf"/>
<rect x="154.11" y="1063.37" width="71.31" height="24.56" fill="#e6b181"/>
<rect x="225.42" y="1063.37" width="71.31" height="24.56" fill="#3058b0"/>
<rect x="296.73" y="1063.37" width="71.31" height="24.56" fill="#a8b4ac"/>
<rect x="368.03" y="1063.37" width="71.31" height="24.56" fill="#7990ae"/>
<rect x="439.34" y="1063.37" width="71.31" height="24.56" fill="#335ab0"/>
<rect x="510.65" y="1063.37" width="71.31" height="24.56" fill="#3159b0"/>
<rect x="581.96" y="1063.37" width="71.31" height="24.56" fill="#d1d4ab"/>
<rect x="653.27" y="1063.37" width="71.31" height="24.56" fill="#3158b0"/>
<rect x="724.58" y="1063.37" width="71.31" height="24.56" fill="#5071af"/>
<rect x="795.88" y="1063.37" width="71.31" height="24.56" fill="#2e56b0"/>
<rect x="867.19" y="1063.37" width="71.31" height="24.56" fill="#385eb0"/>
<rect x="82.80" y="1087.94" width="71.31" height="24.56" fill="#c9ceab"/>
<rect x="154.11" y="1087.94" width="71.31" height="24.56" fill="#b6bfac"/>
<rect x="225.42" y="1087.94" width="71.31" height="24.56" fill="#355cb0"/>
<rect x="296.73" y="1087.94" width="71.31" height="24.56" fill="#6c86ae"/>
<rect x="368.03" y="1087.94" width="71.31" height="24.56" fill="#b2bcac"/>
<rect x="439.34" y="1087.94" width="71.31" height="24.56" fill="#335ab0"/>
<rect x="510.65" y="1087.94" width="71.31" height="24.56" fill="#6983ae"/>
<rect x="581.96" y="1087.94" width="71.31" height="24.56" fill="#d02c27"/>
<rect x="653.27" y="1087.94" width="71.31" height="24.56" fill="#6883ae"/>
<rect x="724.58" y="1087.94" width="71.31" height="24.56" fill="#607cae"/>
<rect x="795.88" y="1087.94" width="71.31" height="24.56" fill="#2e56b0"/>
<rect x="867.19" y="1087.94" width="71.31" height="24.56" fill="#3b60b0"/>
</g>
<g opacity="0.996">
<g font-size="16.60" text-anchor="middle" fill="#000" stroke="#000" stroke-width="0.1">
<text transform="translate(119.05,123.78) scale(1,1.040)">2.35</text>
<text transform="translate(190.36,123.78) scale(1,1.040)">0.80</text>
<text transform="translate(261.67,123.78) scale(1,1.040)">2.93</text>
<text transform="translate(332.98,123.78) scale(1,1.040)">2.13</text>
<text transform="translate(404.29,123.78) scale(1,1.040)">2.39</text>
<text transform="translate(475.60,123.78) scale(1,1.040)">3.34</text>
<text transform="translate(546.90,123.78) scale(1,1.040)">3.08</text>
<text transform="translate(618.21,123.78) scale(1,1.040)">2.31</text>
<text transform="translate(689.52,123.78) scale(1,1.040)">1.80</text>
<text transform="translate(760.83,123.78) scale(1,1.040)">1.15</text>
<text transform="translate(832.14,123.78) scale(1,1.040)">0.41</text>
<text transform="translate(903.45,123.78) scale(1,1.040)">1.06</text>
<text transform="translate(119.05,148.35) scale(1,1.040)">1.71</text>
<text transform="translate(190.36,148.35) scale(1,1.040)">1.64</text>
<text transform="translate(261.67,148.35) scale(1,1.040)">1.44</text>
<text transform="translate(332.98,148.35) scale(1,1.040)">3.79</text>
<text transform="translate(404.29,148.35) scale(1,1.040)">1.79</text>
<text transform="translate(475.60,148.35) scale(1,1.040)">3.39</text>
<text transform="translate(546.90,148.35) scale(1,1.040)">1.96</text>
<text transform="translate(618.21,148.35) scale(1,1.040)">0.33</text>
<text transform="translate(689.52,148.35) scale(1,1.040)">0.77</text>
<text transform="translate(760.83,148.35) scale(1,1.040)">1.84</text>
<text transform="translate(832.14,148.35) scale(1,1.040)">0.00</text>
<text transform="translate(903.45,148.35) scale(1,1.040)">0.00</text>
<text transform="translate(119.05,172.91) scale(1,1.040)">3.97</text>
<text transform="translate(190.36,172.91) scale(1,1.040)">2.53</text>
<text transform="translate(261.67,172.91) scale(1,1.040)">2.43</text>
<text transform="translate(332.98,172.91) scale(1,1.040)">2.28</text>
<text transform="translate(404.29,172.91) scale(1,1.040)">2.07</text>
<text transform="translate(475.60,172.91) scale(1,1.040)">3.43</text>
<text transform="translate(546.90,172.91) scale(1,1.040)">3.50</text>
<text transform="translate(618.21,172.91) scale(1,1.040)">0.92</text>
<text transform="translate(689.52,172.91) scale(1,1.040)">1.64</text>
<text transform="translate(760.83,172.91) scale(1,1.040)">3.99</text>
<text transform="translate(832.14,172.91) scale(1,1.040)">0.00</text>
<text transform="translate(903.45,172.91) scale(1,1.040)">0.93</text>
<text transform="translate(119.05,197.47) scale(1,1.040)">3.42</text>
<text transform="translate(190.36,197.47) scale(1,1.040)">3.02</text>
<text transform="translate(261.67,197.47) scale(1,1.040)">3.89</text>
<text transform="translate(332.98,197.47) scale(1,1.040)">4.66</text>
<text transform="translate(404.29,197.47) scale(1,1.040)">2.04</text>
<text transform="translate(475.60,197.47) scale(1,1.040)">3.55</text>
<text transform="translate(546.90,197.47) scale(1,1.040)">4.13</text>
<text transform="translate(618.21,197.47) scale(1,1.040)">2.14</text>
<text transform="translate(689.52,197.47) scale(1,1.040)">2.65</text>
<text transform="translate(760.83,197.47) scale(1,1.040)">1.93</text>
<text transform="translate(832.14,197.47) scale(1,1.040)">0.00</text>
<text transform="translate(903.45,197.47) scale(1,1.040)">0.11</text>
<text transform="translate(119.05,222.04) scale(1,1.040)">2.45</text>
<text transform="translate(190.36,222.04) scale(1,1.040)">2.88</text>
<text transform="translate(261.67,222.04) scale(1,1.040)">0.78</text>
<text transform="translate(332.98,222.04) scale(1,1.040)">2.79</text>
<text transform="translate(404.29,222.04) scale(1,1.040)">1.86</text>
<text transform="translate(475.60,222.04) scale(1,1.040)">5.28</text>
<text transform="translate(546.90,222.04) scale(1,1.040)">3.95</text>
<text transform="translate(618.21,222.04) scale(1,1.040)">1.89</text>
<text transform="translate(689.52,222.04) scale(1,1.040)">4.36</text>
<text transform="translate(760.83,222.04) scale(1,1.040)">5.73</text>
<text transform="translate(832.14,222.04) scale(1,1.040)">0.54</text>
<text transform="translate(903.45,222.04) scale(1,1.040)">0.36</text>
<text transform="translate(119.05,246.60) scale(1,1.040)">4.40</text>
<text transform="translate(190.36,246.60) scale(1,1.040)">1.96</text>
<text transform="translate(261.67,246.60) scale(1,1.040)">1.77</text>
<text transform="translate(332.98,246.60) scale(1,1.040)">2.60</text>
<text transform="translate(404.29,246.60) scale(1,1.040)">1.65</text>
<text transform="translate(475.60,246.60) scale(1,1.040)">5.66</text>
<text transform="translate(546.90,246.60) scale(1,1.040)">3.85</text>
<text transform="translate(618.21,246.60) scale(1,1.040)">2.11</text>
<text transform="translate(689.52,246.60) scale(1,1.040)">3.64</text>
<text transform="translate(760.83,246.60) scale(1,1.040)">5.45</text>
<text transform="translate(832.14,246.60) scale(1,1.040)">0.20</text>
<text transform="translate(903.45,246.60) scale(1,1.040)">0.58</text>
<text transform="translate(119.05,271.16) scale(1,1.040)">2.31</text>
<text transform="translate(190.36,271.16) scale(1,1.040)">2.76</text>
<text transform="translate(261.67,271.16) scale(1,1.040)">0.86</text>
<text transform="translate(332.98,271.16) scale(1,1.040)">2.75</text>
<text transform="translate(404.29,271.16) scale(1,1.040)">2.12</text>
<text transform="translate(475.60,271.16) scale(1,1.040)">3.48</text>
<text transform="translate(546.90,271.16) scale(1,1.040)">3.00</text>
<text transform="translate(618.21,271.16) scale(1,1.040)">4.01</text>
<text transform="translate(689.52,271.16) scale(1,1.040)">3.57</text>
<text transform="translate(760.83,271.16) scale(1,1.040)">2.30</text>
<text transform="translate(832.14,271.16) scale(1,1.040)">0.00</text>
<text transform="translate(903.45,271.16) scale(1,1.040)">0.00</text>
<text transform="translate(119.05,295.73) scale(1,1.040)">3.32</text>
<text transform="translate(190.36,295.73) scale(1,1.040)">3.41</text>
<text transform="translate(261.67,295.73) scale(1,1.040)">0.86</text>
<text transform="translate(332.98,295.73) scale(1,1.040)">2.94</text>
<text transform="translate(404.29,295.73) scale(1,1.040)">1.57</text>
<text transform="translate(475.60,295.73) scale(1,1.040)">4.32</text>
<text transform="translate(546.90,295.73) scale(1,1.040)">3.68</text>
<text transform="translate(618.21,295.73) scale(1,1.040)">3.93</text>
<text transform="translate(689.52,295.73) scale(1,1.040)">1.56</text>
<text transform="translate(760.83,295.73) scale(1,1.040)">4.33</text>
<text transform="translate(832.14,295.73) scale(1,1.040)">0.32</text>
<text transform="translate(903.45,295.73) scale(1,1.040)">0.75</text>
<text transform="translate(119.05,320.29) scale(1,1.040)">8.57</text>
<text transform="translate(190.36,320.29) scale(1,1.040)">5.67</text>
<text transform="translate(261.67,320.29) scale(1,1.040)">4.60</text>
<text transform="translate(332.98,320.29) scale(1,1.040)">4.22</text>
<text transform="translate(404.29,320.29) scale(1,1.040)">0.49</text>
<text transform="translate(475.60,320.29) scale(1,1.040)">3.46</text>
<text transform="translate(546.90,320.29) scale(1,1.040)">2.63</text>
<text transform="translate(618.21,320.29) scale(1,1.040)">0.64</text>
<text transform="translate(689.52,320.29) scale(1,1.040)">0.00</text>
<text transform="translate(760.83,320.29) scale(1,1.040)">0.00</text>
<text transform="translate(832.14,320.29) scale(1,1.040)">0.00</text>
<text transform="translate(903.45,320.29) scale(1,1.040)">0.32</text>
<text transform="translate(119.05,344.85) scale(1,1.040)">8.95</text>
<text transform="translate(190.36,344.85) scale(1,1.040)">4.27</text>
<text transform="translate(261.67,344.85) scale(1,1.040)">3.15</text>
<text transform="translate(332.98,344.85) scale(1,1.040)">4.23</text>
<text transform="translate(404.29,344.85) scale(1,1.040)">3.14</text>
<text transform="translate(475.60,344.85) scale(1,1.040)">1.54</text>
<text transform="translate(546.90,344.85) scale(1,1.040)">3.01</text>
<text transform="translate(618.21,344.85) scale(1,1.040)">2.90</text>
<text transform="translate(689.52,344.85) scale(1,1.040)">0.10</text>
<text transform="translate(760.83,344.85) scale(1,1.040)">0.11</text>
<text transform="translate(832.14,344.85) scale(1,1.040)">0.00</text>
<text transform="translate(903.45,344.85) scale(1,1.040)">0.00</text>
<text transform="translate(119.05,369.42) scale(1,1.040)">4.14</text>
<text transform="translate(190.36,369.42) scale(1,1.040)">2.02</text>
<text transform="translate(261.67,369.42) scale(1,1.040)">6.12</text>
<text transform="translate(332.98,369.42) scale(1,1.040)">5.16</text>
<text transform="translate(404.29,369.42) scale(1,1.040)">1.49</text>
<text transform="translate(475.60,369.42) scale(1,1.040)">3.85</text>
<text transform="translate(546.90,369.42) scale(1,1.040)">4.56</text>
<text transform="translate(618.21,369.42) scale(1,1.040)">0.56</text>
<text transform="translate(689.52,369.42) scale(1,1.040)">0.11</text>
<text transform="translate(760.83,369.42) scale(1,1.040)">0.18</text>
<text transform="translate(832.14,369.42) scale(1,1.040)">0.00</text>
<text transform="translate(903.45,369.42) scale(1,1.040)">0.46</text>
<text transform="translate(119.05,393.98) scale(1,1.040)">6.04</text>
<text transform="translate(190.36,393.98) scale(1,1.040)">2.00</text>
<text transform="translate(261.67,393.98) scale(1,1.040)">6.81</text>
<text transform="translate(332.98,393.98) scale(1,1.040)">5.39</text>
<text transform="translate(404.29,393.98) scale(1,1.040)">2.11</text>
<text transform="translate(475.60,393.98) scale(1,1.040)">3.80</text>
<text transform="translate(546.90,393.98) scale(1,1.040)">4.86</text>
<text transform="translate(618.21,393.98) scale(1,1.040)">0.59</text>
<text transform="translate(689.52,393.98) scale(1,1.040)">0.10</text>
<text transform="translate(760.83,393.98) scale(1,1.040)">0.36</text>
<text transform="translate(832.14,393.98) scale(1,1.040)">0.00</text>
<text transform="translate(903.45,393.98) scale(1,1.040)">0.25</text>
<text transform="translate(119.05,418.54) scale(1,1.040)">5.26</text>
<text transform="translate(190.36,418.54) scale(1,1.040)">5.06</text>
<text transform="translate(261.67,418.54) scale(1,1.040)">4.22</text>
<text transform="translate(332.98,418.54) scale(1,1.040)">3.93</text>
<text transform="translate(404.29,418.54) scale(1,1.040)">5.18</text>
<text transform="translate(475.60,418.54) scale(1,1.040)">4.23</text>
<text transform="translate(546.90,418.54) scale(1,1.040)">4.49</text>
<text transform="translate(618.21,418.54) scale(1,1.040)">1.71</text>
<text transform="translate(689.52,418.54) scale(1,1.040)">0.16</text>
<text transform="translate(760.83,418.54) scale(1,1.040)">0.55</text>
<text transform="translate(832.14,418.54) scale(1,1.040)">0.58</text>
<text transform="translate(903.45,418.54) scale(1,1.040)">1.32</text>
<text transform="translate(119.05,443.11) scale(1,1.040)">6.56</text>
<text transform="translate(190.36,443.11) scale(1,1.040)">4.29</text>
<text transform="translate(261.67,443.11) scale(1,1.040)">5.03</text>
<text transform="translate(332.98,443.11) scale(1,1.040)">5.27</text>
<text transform="translate(404.29,443.11) scale(1,1.040)">4.93</text>
<text transform="translate(475.60,443.11) scale(1,1.040)">3.94</text>
<text transform="translate(546.90,443.11) scale(1,1.040)">5.10</text>
<text transform="translate(618.21,443.11) scale(1,1.040)">2.28</text>
<text transform="translate(689.52,443.11) scale(1,1.040)">0.12</text>
<text transform="translate(760.83,443.11) scale(1,1.040)">0.58</text>
<text transform="translate(832.14,443.11) scale(1,1.040)">0.39</text>
<text transform="translate(903.45,443.11) scale(1,1.040)">1.14</text>
<text transform="translate(119.05,467.67) scale(1,1.040)">6.25</text>
<text transform="translate(190.36,467.67) scale(1,1.040)">5.59</text>
<text transform="translate(261.67,467.67) scale(1,1.040)">3.71</text>
<text transform="translate(332.98,467.67) scale(1,1.040)">4.90</text>
<text transform="translate(404.29,467.67) scale(1,1.040)">4.48</text>
<text transform="translate(475.60,467.67) scale(1,1.040)">3.34</text>
<text transform="translate(546.90,467.67) scale(1,1.040)">4.44</text>
<text transform="translate(618.21,467.67) scale(1,1.040)">2.90</text>
<text transform="translate(689.52,467.67) scale(1,1.040)">0.07</text>
<text transform="translate(760.83,467.67) scale(1,1.040)">0.70</text>
<text transform="translate(832.14,467.67) scale(1,1.040)">0.00</text>
<text transform="translate(903.45,467.67) scale(1,1.040)">1.05</text>
<text transform="translate(119.05,492.23) scale(1,1.040)">5.81</text>
<text transform="translate(190.36,492.23) scale(1,1.040)">4.46</text>
<text transform="translate(261.67,492.23) scale(1,1.040)">5.62</text>
<text transform="translate(332.98,492.23) scale(1,1.040)">5.53</text>
<text transform="translate(404.29,492.23) scale(1,1.040)">4.20</text>
<text transform="translate(475.60,492.23) scale(1,1.040)">3.36</text>
<text transform="translate(546.90,492.23) scale(1,1.040)">3.79</text>
<text transform="translate(618.21,492.23) scale(1,1.040)">0.61</text>
<text transform="translate(689.52,492.23) scale(1,1.040)">0.24</text>
<text transform="translate(760.83,492.23) scale(1,1.040)">0.12</text>
<text transform="translate(832.14,492.23) scale(1,1.040)">0.00</text>
<text transform="translate(903.45,492.23) scale(1,1.040)">0.41</text>
<text transform="translate(119.05,516.80) scale(1,1.040)">5.25</text>
<text transform="translate(190.36,516.80) scale(1,1.040)">4.32</text>
<text transform="translate(261.67,516.80) scale(1,1.040)">3.84</text>
<text transform="translate(332.98,516.80) scale(1,1.040)">4.24</text>
<text transform="translate(404.29,516.80) scale(1,1.040)">3.14</text>
<text transform="translate(475.60,516.80) scale(1,1.040)">3.97</text>
<text transform="translate(546.90,516.80) scale(1,1.040)">4.45</text>
<text transform="translate(618.21,516.80) scale(1,1.040)">2.37</text>
<text transform="translate(689.52,516.80) scale(1,1.040)">0.07</text>
<text transform="translate(760.83,516.80) scale(1,1.040)">0.51</text>
<text transform="translate(832.14,516.80) scale(1,1.040)">0.00</text>
<text transform="translate(903.45,516.80) scale(1,1.040)">0.96</text>
<text transform="translate(119.05,541.36) scale(1,1.040)">6.88</text>
<text transform="translate(190.36,541.36) scale(1,1.040)">4.77</text>
<text transform="translate(261.67,541.36) scale(1,1.040)">5.09</text>
<text transform="translate(332.98,541.36) scale(1,1.040)">4.14</text>
<text transform="translate(404.29,541.36) scale(1,1.040)">2.63</text>
<text transform="translate(475.60,541.36) scale(1,1.040)">3.61</text>
<text transform="translate(546.90,541.36) scale(1,1.040)">3.52</text>
<text transform="translate(618.21,541.36) scale(1,1.040)">1.64</text>
<text transform="translate(689.52,541.36) scale(1,1.040)">0.15</text>
<text transform="translate(760.83,541.36) scale(1,1.040)">0.71</text>
<text transform="translate(832.14,541.36) scale(1,1.040)">0.00</text>
<text transform="translate(903.45,541.36) scale(1,1.040)">1.04</text>
<text transform="translate(119.05,565.92) scale(1,1.040)">4.92</text>
<text transform="translate(190.36,565.92) scale(1,1.040)">4.60</text>
<text transform="translate(261.67,565.92) scale(1,1.040)">3.24</text>
<text transform="translate(332.98,565.92) scale(1,1.040)">3.07</text>
<text transform="translate(404.29,565.92) scale(1,1.040)">5.29</text>
<text transform="translate(475.60,565.92) scale(1,1.040)">3.41</text>
<text transform="translate(546.90,565.92) scale(1,1.040)">4.35</text>
<text transform="translate(618.21,565.92) scale(1,1.040)">3.82</text>
<text transform="translate(689.52,565.92) scale(1,1.040)">0.07</text>
<text transform="translate(760.83,565.92) scale(1,1.040)">1.08</text>
<text transform="translate(832.14,565.92) scale(1,1.040)">0.07</text>
<text transform="translate(903.45,565.92) scale(1,1.040)">2.59</text>
<text transform="translate(119.05,590.49) scale(1,1.040)">5.76</text>
<text transform="translate(190.36,590.49) scale(1,1.040)">4.40</text>
<text transform="translate(261.67,590.49) scale(1,1.040)">2.66</text>
<text transform="translate(332.98,590.49) scale(1,1.040)">2.84</text>
<text transform="translate(404.29,590.49) scale(1,1.040)">2.44</text>
<text transform="translate(475.60,590.49) scale(1,1.040)">3.20</text>
<text transform="translate(546.90,590.49) scale(1,1.040)">3.54</text>
<text transform="translate(618.21,590.49) scale(1,1.040)">4.24</text>
<text transform="translate(689.52,590.49) scale(1,1.040)">0.19</text>
<text transform="translate(760.83,590.49) scale(1,1.040)">0.86</text>
<text transform="translate(832.14,590.49) scale(1,1.040)">0.00</text>
<text transform="translate(903.45,590.49) scale(1,1.040)">0.55</text>
<text transform="translate(119.05,615.05) scale(1,1.040)">5.50</text>
<text transform="translate(190.36,615.05) scale(1,1.040)">5.78</text>
<text transform="translate(261.67,615.05) scale(1,1.040)">4.00</text>
<text transform="translate(332.98,615.05) scale(1,1.040)">3.81</text>
<text transform="translate(404.29,615.05) scale(1,1.040)">1.78</text>
<text transform="translate(475.60,615.05) scale(1,1.040)">3.03</text>
<text transform="translate(546.90,615.05) scale(1,1.040)">3.93</text>
<text transform="translate(618.21,615.05) scale(1,1.040)">3.30</text>
<text transform="translate(689.52,615.05) scale(1,1.040)">0.03</text>
<text transform="translate(760.83,615.05) scale(1,1.040)">1.34</text>
<text transform="translate(832.14,615.05) scale(1,1.040)">0.00</text>
<text transform="translate(903.45,615.05) scale(1,1.040)">1.33</text>
<text transform="translate(119.05,639.61) scale(1,1.040)">7.08</text>
<text transform="translate(190.36,639.61) scale(1,1.040)">4.33</text>
<text transform="translate(261.67,639.61) scale(1,1.040)">0.00</text>
<text transform="translate(332.98,639.61) scale(1,1.040)">0.77</text>
<text transform="translate(404.29,639.61) scale(1,1.040)">2.43</text>
<text transform="translate(475.60,639.61) scale(1,1.040)">3.29</text>
<text transform="translate(546.90,639.61) scale(1,1.040)">1.99</text>
<text transform="translate(618.21,639.61) scale(1,1.040)">0.00</text>
<text transform="translate(689.52,639.61) scale(1,1.040)">0.45</text>
<text transform="translate(760.83,639.61) scale(1,1.040)">1.44</text>
<text transform="translate(832.14,639.61) scale(1,1.040)">0.65</text>
<text transform="translate(903.45,639.61) scale(1,1.040)">0.00</text>
<text transform="translate(119.05,664.18) scale(1,1.040)">4.99</text>
<text transform="translate(190.36,664.18) scale(1,1.040)">3.71</text>
<text transform="translate(261.67,664.18) scale(1,1.040)">2.06</text>
<text transform="translate(332.98,664.18) scale(1,1.040)">0.94</text>
<text transform="translate(404.29,664.18) scale(1,1.040)">2.09</text>
<text transform="translate(475.60,664.18) scale(1,1.040)">2.02</text>
<text transform="translate(546.90,664.18) scale(1,1.040)">3.47</text>
<text transform="translate(618.21,664.18) scale(1,1.040)">0.85</text>
<text transform="translate(689.52,664.18) scale(1,1.040)">0.42</text>
<text transform="translate(760.83,664.18) scale(1,1.040)">0.61</text>
<text transform="translate(832.14,664.18) scale(1,1.040)">0.01</text>
<text transform="translate(903.45,664.18) scale(1,1.040)">0.03</text>
<text transform="translate(119.05,688.74) scale(1,1.040)">4.26</text>
<text transform="translate(190.36,688.74) scale(1,1.040)">4.72</text>
<text transform="translate(261.67,688.74) scale(1,1.040)">1.49</text>
<text transform="translate(332.98,688.74) scale(1,1.040)">1.73</text>
<text transform="translate(404.29,688.74) scale(1,1.040)">2.33</text>
<text transform="translate(475.60,688.74) scale(1,1.040)">1.28</text>
<text transform="translate(546.90,688.74) scale(1,1.040)">2.39</text>
<text transform="translate(618.21,688.74) scale(1,1.040)">2.20</text>
<text transform="translate(689.52,688.74) scale(1,1.040)">0.43</text>
<text transform="translate(760.83,688.74) scale(1,1.040)">0.49</text>
<text transform="translate(832.14,688.74) scale(1,1.040)">0.53</text>
<text transform="translate(903.45,688.74) scale(1,1.040)">0.77</text>
<text transform="translate(119.05,713.30) scale(1,1.040)">3.56</text>
<text transform="translate(190.36,713.30) scale(1,1.040)">2.01</text>
<text transform="translate(261.67,713.30) scale(1,1.040)">2.62</text>
<text transform="translate(332.98,713.30) scale(1,1.040)">0.41</text>
<text transform="translate(404.29,713.30) scale(1,1.040)">1.78</text>
<text transform="translate(475.60,713.30) scale(1,1.040)">2.52</text>
<text transform="translate(546.90,713.30) scale(1,1.040)">2.74</text>
<text transform="translate(618.21,713.30) scale(1,1.040)">2.41</text>
<text transform="translate(689.52,713.30) scale(1,1.040)">0.00</text>
<text transform="translate(760.83,713.30) scale(1,1.040)">1.75</text>
<text transform="translate(832.14,713.30) scale(1,1.040)">1.12</text>
<text transform="translate(903.45,713.30) scale(1,1.040)">0.00</text>
<text transform="translate(119.05,737.87) scale(1,1.040)">5.45</text>
<text transform="translate(190.36,737.87) scale(1,1.040)">1.58</text>
<text transform="translate(261.67,737.87) scale(1,1.040)">3.19</text>
<text transform="translate(332.98,737.87) scale(1,1.040)">0.79</text>
<text transform="translate(404.29,737.87) scale(1,1.040)">3.34</text>
<text transform="translate(475.60,737.87) scale(1,1.040)">3.00</text>
<text transform="translate(546.90,737.87) scale(1,1.040)">2.15</text>
<text transform="translate(618.21,737.87) scale(1,1.040)">3.28</text>
<text transform="translate(689.52,737.87) scale(1,1.040)">0.00</text>
<text transform="translate(760.83,737.87) scale(1,1.040)">0.92</text>
<text transform="translate(832.14,737.87) scale(1,1.040)">0.00</text>
<text transform="translate(903.45,737.87) scale(1,1.040)">0.69</text>
<text transform="translate(119.05,762.43) scale(1,1.040)">5.47</text>
<text transform="translate(190.36,762.43) scale(1,1.040)">2.02</text>
<text transform="translate(261.67,762.43) scale(1,1.040)">2.56</text>
<text transform="translate(332.98,762.43) scale(1,1.040)">1.10</text>
<text transform="translate(404.29,762.43) scale(1,1.040)">2.08</text>
<text transform="translate(475.60,762.43) scale(1,1.040)">2.93</text>
<text transform="translate(546.90,762.43) scale(1,1.040)">3.22</text>
<text transform="translate(618.21,762.43) scale(1,1.040)">1.80</text>
<text transform="translate(689.52,762.43) scale(1,1.040)">0.14</text>
<text transform="translate(760.83,762.43) scale(1,1.040)">1.53</text>
<text transform="translate(832.14,762.43) scale(1,1.040)">0.00</text>
<text transform="translate(903.45,762.43) scale(1,1.040)">1.42</text>
<text transform="translate(119.05,786.99) scale(1,1.040)">4.65</text>
<text transform="translate(190.36,786.99) scale(1,1.040)">3.99</text>
<text transform="translate(261.67,786.99) scale(1,1.040)">4.26</text>
<text transform="translate(332.98,786.99) scale(1,1.040)">1.94</text>
<text transform="translate(404.29,786.99) scale(1,1.040)">1.91</text>
<text transform="translate(475.60,786.99) scale(1,1.040)">1.24</text>
<text transform="translate(546.90,786.99) scale(1,1.040)">3.58</text>
<text transform="translate(618.21,786.99) scale(1,1.040)">2.97</text>
<text transform="translate(689.52,786.99) scale(1,1.040)">0.06</text>
<text transform="translate(760.83,786.99) scale(1,1.040)">0.60</text>
<text transform="translate(832.14,786.99) scale(1,1.040)">4.26</text>
<text transform="translate(903.45,786.99) scale(1,1.040)">1.14</text>
<text transform="translate(119.05,811.56) scale(1,1.040)">3.02</text>
<text transform="translate(190.36,811.56) scale(1,1.040)">2.97</text>
<text transform="translate(261.67,811.56) scale(1,1.040)">4.09</text>
<text transform="translate(332.98,811.56) scale(1,1.040)">2.62</text>
<text transform="translate(404.29,811.56) scale(1,1.040)">1.53</text>
<text transform="translate(475.60,811.56) scale(1,1.040)">2.08</text>
<text transform="translate(546.90,811.56) scale(1,1.040)">2.40</text>
<text transform="translate(618.21,811.56) scale(1,1.040)">2.31</text>
<text transform="translate(689.52,811.56) scale(1,1.040)">0.14</text>
<text transform="translate(760.83,811.56) scale(1,1.040)">0.77</text>
<text transform="translate(832.14,811.56) scale(1,1.040)">4.11</text>
<text transform="translate(903.45,811.56) scale(1,1.040)">1.72</text>
<text transform="translate(119.05,836.12) scale(1,1.040)">3.02</text>
<text transform="translate(190.36,836.12) scale(1,1.040)">4.10</text>
<text transform="translate(261.67,836.12) scale(1,1.040)">4.68</text>
<text transform="translate(332.98,836.12) scale(1,1.040)">1.75</text>
<text transform="translate(404.29,836.12) scale(1,1.040)">1.50</text>
<text transform="translate(475.60,836.12) scale(1,1.040)">1.37</text>
<text transform="translate(546.90,836.12) scale(1,1.040)">1.97</text>
<text transform="translate(618.21,836.12) scale(1,1.040)">2.36</text>
<text transform="translate(689.52,836.12) scale(1,1.040)">0.06</text>
<text transform="translate(760.83,836.12) scale(1,1.040)">0.41</text>
<text transform="translate(832.14,836.12) scale(1,1.040)">4.62</text>
<text transform="translate(903.45,836.12) scale(1,1.040)">1.35</text>
<text transform="translate(119.05,860.68) scale(1,1.040)">3.59</text>
<text transform="translate(190.36,860.68) scale(1,1.040)">0.03</text>
<text transform="translate(261.67,860.68) scale(1,1.040)">2.61</text>
<text transform="translate(332.98,860.68) scale(1,1.040)">4.02</text>
<text transform="translate(404.29,860.68) scale(1,1.040)">1.93</text>
<text transform="translate(475.60,860.68) scale(1,1.040)">1.39</text>
<text transform="translate(546.90,860.68) scale(1,1.040)">1.90</text>
<text transform="translate(618.21,860.68) scale(1,1.040)">2.88</text>
<text transform="translate(689.52,860.68) scale(1,1.040)">0.16</text>
<text transform="translate(760.83,860.68) scale(1,1.040)">0.66</text>
<text transform="translate(832.14,860.68) scale(1,1.040)">2.84</text>
<text transform="translate(903.45,860.68) scale(1,1.040)">2.31</text>
<text transform="translate(119.05,885.25) scale(1,1.040)">5.23</text>
<text transform="translate(190.36,885.25) scale(1,1.040)">2.52</text>
<text transform="translate(261.67,885.25) scale(1,1.040)">2.51</text>
<text transform="translate(332.98,885.25) scale(1,1.040)">3.44</text>
<text transform="translate(404.29,885.25) scale(1,1.040)">3.41</text>
<text transform="translate(475.60,885.25) scale(1,1.040)">2.90</text>
<text transform="translate(546.90,885.25) scale(1,1.040)">3.03</text>
<text transform="translate(618.21,885.25) scale(1,1.040)">3.10</text>
<text transform="translate(689.52,885.25) scale(1,1.040)">0.01</text>
<text transform="translate(760.83,885.25) scale(1,1.040)">0.72</text>
<text transform="translate(832.14,885.25) scale(1,1.040)">0.00</text>
<text transform="translate(903.45,885.25) scale(1,1.040)">1.74</text>
<text transform="translate(119.05,909.81) scale(1,1.040)">5.13</text>
<text transform="translate(190.36,909.81) scale(1,1.040)">0.65</text>
<text transform="translate(261.67,909.81) scale(1,1.040)">2.87</text>
<text transform="translate(332.98,909.81) scale(1,1.040)">3.07</text>
<text transform="translate(404.29,909.81) scale(1,1.040)">1.98</text>
<text transform="translate(475.60,909.81) scale(1,1.040)">3.01</text>
<text transform="translate(546.90,909.81) scale(1,1.040)">2.99</text>
<text transform="translate(618.21,909.81) scale(1,1.040)">5.07</text>
<text transform="translate(689.52,909.81) scale(1,1.040)">0.08</text>
<text transform="translate(760.83,909.81) scale(1,1.040)">0.75</text>
<text transform="translate(832.14,909.81) scale(1,1.040)">0.46</text>
<text transform="translate(903.45,909.81) scale(1,1.040)">2.08</text>
<text transform="translate(119.05,934.37) scale(1,1.040)">0.39</text>
<text transform="translate(190.36,934.37) scale(1,1.040)">2.89</text>
<text transform="translate(261.67,934.37) scale(1,1.040)">0.00</text>
<text transform="translate(332.98,934.37) scale(1,1.040)">2.27</text>
<text transform="translate(404.29,934.37) scale(1,1.040)">0.21</text>
<text transform="translate(475.60,934.37) scale(1,1.040)">0.00</text>
<text transform="translate(546.90,934.37) scale(1,1.040)">0.26</text>
<text transform="translate(618.21,934.37) scale(1,1.040)">1.88</text>
<text transform="translate(689.52,934.37) scale(1,1.040)">0.00</text>
<text transform="translate(760.83,934.37) scale(1,1.040)">0.23</text>
<text transform="translate(832.14,934.37) scale(1,1.040)">0.00</text>
<text transform="translate(903.45,934.37) scale(1,1.040)">0.00</text>
<text transform="translate(119.05,958.94) scale(1,1.040)">0.00</text>
<text transform="translate(190.36,958.94) scale(1,1.040)">0.00</text>
<text transform="translate(261.67,958.94) scale(1,1.040)">0.00</text>
<text transform="translate(332.98,958.94) scale(1,1.040)">0.00</text>
<text transform="translate(404.29,958.94) scale(1,1.040)">0.00</text>
<text transform="translate(475.60,958.94) scale(1,1.040)">0.00</text>
<text transform="translate(546.90,958.94) scale(1,1.040)">0.00</text>
<text transform="translate(618.21,958.94) scale(1,1.040)">0.00</text>
<text transform="translate(689.52,958.94) scale(1,1.040)">0.00</text>
<text transform="translate(760.83,958.94) scale(1,1.040)">0.00</text>
<text transform="translate(832.14,958.94) scale(1,1.040)">0.00</text>
<text transform="translate(903.45,958.94) scale(1,1.040)">0.00</text>
<text transform="translate(119.05,983.50) scale(1,1.040)">0.06</text>
<text transform="translate(190.36,983.50) scale(1,1.040)">0.20</text>
<text transform="translate(261.67,983.50) scale(1,1.040)">1.29</text>
<text transform="translate(332.98,983.50) scale(1,1.040)">0.30</text>
<text transform="translate(404.29,983.50) scale(1,1.040)">0.66</text>
<text transform="translate(475.60,983.50) scale(1,1.040)">0.00</text>
<text transform="translate(546.90,983.50) scale(1,1.040)">0.84</text>
<text transform="translate(618.21,983.50) scale(1,1.040)">0.12</text>
<text transform="translate(689.52,983.50) scale(1,1.040)">0.26</text>
<text transform="translate(760.83,983.50) scale(1,1.040)">0.21</text>
<text transform="translate(832.14,983.50) scale(1,1.040)">0.00</text>
<text transform="translate(903.45,983.50) scale(1,1.040)">0.00</text>
<text transform="translate(119.05,1008.06) scale(1,1.040)">0.00</text>
<text transform="translate(190.36,1008.06) scale(1,1.040)">0.14</text>
<text transform="translate(261.67,1008.06) scale(1,1.040)">0.39</text>
<text transform="translate(332.98,1008.06) scale(1,1.040)">0.07</text>
<text transform="translate(404.29,1008.06) scale(1,1.040)">0.00</text>
<text transform="translate(475.60,1008.06) scale(1,1.040)">0.00</text>
<text transform="translate(546.90,1008.06) scale(1,1.040)">1.14</text>
<text transform="translate(618.21,1008.06) scale(1,1.040)">0.00</text>
<text transform="translate(689.52,1008.06) scale(1,1.040)">0.00</text>
<text transform="translate(760.83,1008.06) scale(1,1.040)">0.12</text>
<text transform="translate(832.14,1008.06) scale(1,1.040)">0.00</text>
<text transform="translate(903.45,1008.06) scale(1,1.040)">0.00</text>
<text transform="translate(119.05,1032.63) scale(1,1.040)">0.33</text>
<text transform="translate(190.36,1032.63) scale(1,1.040)">0.04</text>
<text transform="translate(261.67,1032.63) scale(1,1.040)">0.57</text>
<text transform="translate(332.98,1032.63) scale(1,1.040)">0.00</text>
<text transform="translate(404.29,1032.63) scale(1,1.040)">0.81</text>
<text transform="translate(475.60,1032.63) scale(1,1.040)">0.73</text>
<text transform="translate(546.90,1032.63) scale(1,1.040)">1.97</text>
<text transform="translate(618.21,1032.63) scale(1,1.040)">2.59</text>
<text transform="translate(689.52,1032.63) scale(1,1.040)">0.78</text>
<text transform="translate(760.83,1032.63) scale(1,1.040)">0.58</text>
<text transform="translate(832.14,1032.63) scale(1,1.040)">0.00</text>
<text transform="translate(903.45,1032.63) scale(1,1.040)">0.44</text>
<text transform="translate(119.05,1057.19) scale(1,1.040)">0.52</text>
<text transform="translate(190.36,1057.19) scale(1,1.040)">0.03</text>
<text transform="translate(261.67,1057.19) scale(1,1.040)">0.00</text>
<text transform="translate(332.98,1057.19) scale(1,1.040)">1.61</text>
<text transform="translate(404.29,1057.19) scale(1,1.040)">0.63</text>
<text transform="translate(475.60,1057.19) scale(1,1.040)">0.54</text>
<text transform="translate(546.90,1057.19) scale(1,1.040)">0.52</text>
<text transform="translate(618.21,1057.19) scale(1,1.040)">2.34</text>
<text transform="translate(689.52,1057.19) scale(1,1.040)">0.00</text>
<text transform="translate(760.83,1057.19) scale(1,1.040)">0.00</text>
<text transform="translate(832.14,1057.19) scale(1,1.040)">0.00</text>
<text transform="translate(903.45,1057.19) scale(1,1.040)">0.00</text>
<text transform="translate(119.05,1081.75) scale(1,1.040)">0.64</text>
<text transform="translate(190.36,1081.75) scale(1,1.040)">6.19</text>
<text transform="translate(261.67,1081.75) scale(1,1.040)">0.06</text>
<text transform="translate(332.98,1081.75) scale(1,1.040)">2.96</text>
<text transform="translate(404.29,1081.75) scale(1,1.040)">1.82</text>
<text transform="translate(475.60,1081.75) scale(1,1.040)">0.12</text>
<text transform="translate(546.90,1081.75) scale(1,1.040)">0.08</text>
<text transform="translate(618.21,1081.75) scale(1,1.040)">3.96</text>
<text transform="translate(689.52,1081.75) scale(1,1.040)">0.07</text>
<text transform="translate(760.83,1081.75) scale(1,1.040)">0.84</text>
<text transform="translate(832.14,1081.75) scale(1,1.040)">0.00</text>
<text transform="translate(903.45,1081.75) scale(1,1.040)">0.24</text>
<text transform="translate(119.05,1106.32) scale(1,1.040)">3.78</text>
<text transform="translate(190.36,1106.32) scale(1,1.040)">3.32</text>
<text transform="translate(261.67,1106.32) scale(1,1.040)">0.18</text>
<text transform="translate(332.98,1106.32) scale(1,1.040)">1.51</text>
<text transform="translate(404.29,1106.32) scale(1,1.040)">3.21</text>
<text transform="translate(475.60,1106.32) scale(1,1.040)">0.12</text>
<text transform="translate(546.90,1106.32) scale(1,1.040)">1.43</text>
<text transform="translate(618.21,1106.32) scale(1,1.040)">9.45</text>
<text transform="translate(689.52,1106.32) scale(1,1.040)">1.42</text>
<text transform="translate(760.83,1106.32) scale(1,1.040)">1.21</text>
<text transform="translate(832.14,1106.32) scale(1,1.040)">0.00</text>
<text transform="translate(903.45,1106.32) scale(1,1.040)">0.32</text>
</g>
<g font-size="24.40" fill="#111">
<text transform="translate(945.5,124.88) scale(1.000,1.020)">Callus</text>
<text transform="translate(945.5,151.95) scale(1.000,1.020)">Root-tip2</text>
<text transform="translate(945.5,174.01) scale(1.000,1.020)">Root3</text>
<text transform="translate(945.5,198.57) scale(1.000,1.020)">Shoot3</text>
<text transform="translate(945.5,223.14) scale(1.000,1.020)">Root1</text>
<text transform="translate(945.5,247.70) scale(1.000,1.020)">Root2</text>
<text transform="translate(945.5,272.26) scale(1.000,1.020)">Root4</text>
<text transform="translate(945.5,296.83) scale(1.000,1.020)">Root5</text>
<text transform="translate(945.5,321.39) scale(1.000,1.020)">Leaf1</text>
<text transform="translate(945.5,345.95) scale(1.000,1.020)">Joint</text>
<text transform="translate(945.5,370.52) scale(1.000,1.020)">Leaf3</text>
<text transform="translate(945.5,395.08) scale(1.000,1.020)">Leaf4</text>
<text transform="translate(945.5,419.64) scale(1.000,1.020)">Shoot5</text>
<text transform="translate(945.5,444.21) scale(1.000,1.020)">Shoot1</text>
<text transform="translate(945.5,468.77) scale(1.000,1.020)">Shoot4</text>
<text transform="translate(945.5,493.33) scale(1.000,1.020)">Leaf2</text>
<text transform="translate(945.5,517.90) scale(1.000,1.020)">Shoot2</text>
<text transform="translate(945.5,542.46) scale(1.000,1.020)">Panicle3</text>
<text transform="translate(945.5,567.02) scale(1.000,1.020)">Stem</text>
<text transform="translate(945.5,591.59) scale(1.000,1.020)">Panicle2</text>
<text transform="translate(945.5,617.65) scale(1.000,1.020)">Spike</text>
<text transform="translate(945.5,643.21) scale(1.000,1.020)">Root-tip1</text>
<text transform="translate(945.5,665.28) scale(1.000,1.020)">Follower1</text>
<text transform="translate(945.5,689.84) scale(1.000,1.020)">Follower4</text>
<text transform="translate(945.5,714.40) scale(1.000,1.020)">Panicle4</text>
<text transform="translate(945.5,738.97) scale(1.000,1.020)">Internode</text>
<text transform="translate(945.5,763.53) scale(0.885,0.954)">Panicle1</text>
<text transform="translate(945.5,788.09) scale(0.885,0.954)">Grain1</text>
<text transform="translate(945.5,812.66) scale(0.885,0.954)">Grain2</text>
<text transform="translate(945.5,837.22) scale(0.885,0.954)">Grain6</text>
<text transform="translate(945.5,861.78) scale(0.885,0.954)">Grain3</text>
<text transform="translate(945.5,886.35) scale(0.885,0.954)">Sheath</text>
<text transform="translate(945.5,910.91) scale(0.885,0.954)">Follower3</text>
<text transform="translate(945.5,935.47) scale(0.885,0.954)">Pollen3</text>
<text transform="translate(945.5,960.04) scale(0.885,0.954)">Follower2</text>
<text transform="translate(945.5,984.60) scale(0.885,0.954)">Grain4</text>
<text transform="translate(945.5,1009.16) scale(0.885,0.954)">Grain5</text>
<text transform="translate(945.5,1033.73) scale(0.885,0.954)">Pollen1</text>
<text transform="translate(945.5,1058.29) scale(0.885,0.954)">Pollen2</text>
<text transform="translate(945.5,1082.85) scale(0.885,0.954)">Pollen4</text>
<text transform="translate(945.5,1107.42) scale(0.885,0.954)">Pollen5</text>
</g>
<g font-size="22.00" fill="#111" text-anchor="end">
<text transform="translate(134.45,1125.00) rotate(-45)">OSiSULTR3</text>
<text transform="translate(205.76,1125.00) rotate(-45)">OSiSULTR9</text>
<text transform="translate(277.07,1125.00) rotate(-45)">OSiSULTR8</text>
<text transform="translate(348.38,1125.00) rotate(-45)">OSiSULTR10</text>
<text transform="translate(419.69,1125.00) rotate(-45)">OSiSULTR4</text>
<text transform="translate(491.00,1125.00) rotate(-45)">OSiSULTR5</text>
<text transform="translate(562.30,1125.00) rotate(-45)">OSiSULTR11</text>
<text transform="translate(633.61,1125.00) rotate(-45)">OSiSULTR2</text>
<text transform="translate(704.92,1125.00) rotate(-45)">OSiSULTR6</text>
<text transform="translate(776.23,1125.00) rotate(-45)">OSiSULTR7</text>
<text transform="translate(847.54,1125.00) rotate(-45)">OSiSULTR1</text>
<text transform="translate(918.85,1125.00) rotate(-45)">OSiSULTR12</text>
</g>
</g>
<g stroke="#969696" stroke-width="1.70" stroke-linecap="round" fill="none">
<line x1="118.45" y1="24.03" x2="118.45" y2="103.90"/>
<line x1="189.76" y1="40.36" x2="189.76" y2="103.90"/>
<line x1="261.07" y1="73.02" x2="261.07" y2="103.90"/>
<line x1="332.38" y1="73.02" x2="332.38" y2="103.90"/>
<line x1="261.07" y1="73.02" x2="332.38" y2="73.02"/>
<line x1="296.73" y1="56.69" x2="296.73" y2="73.02"/>
<line x1="403.69" y1="73.02" x2="403.69" y2="103.90"/>
<line x1="475.00" y1="89.35" x2="475.00" y2="103.90"/>
<line x1="546.30" y1="89.35" x2="546.30" y2="103.90"/>
<line x1="475.00" y1="89.35" x2="546.30" y2="89.35"/>
<line x1="510.65" y1="73.02" x2="510.65" y2="89.35"/>
<line x1="403.69" y1="73.02" x2="510.65" y2="73.02"/>
<line x1="457.17" y1="56.69" x2="457.17" y2="73.02"/>
<line x1="296.73" y1="56.69" x2="457.17" y2="56.69"/>
<line x1="376.95" y1="40.36" x2="376.95" y2="56.69"/>
<line x1="189.76" y1="40.36" x2="376.95" y2="40.36"/>
<line x1="283.35" y1="24.03" x2="283.35" y2="40.36"/>
<line x1="118.45" y1="24.03" x2="283.35" y2="24.03"/>
<line x1="200.90" y1="7.70" x2="200.90" y2="24.03"/>
<line x1="617.61" y1="24.03" x2="617.61" y2="103.90"/>
<line x1="688.92" y1="56.69" x2="688.92" y2="103.90"/>
<line x1="760.23" y1="56.69" x2="760.23" y2="103.90"/>
<line x1="688.92" y1="56.69" x2="760.23" y2="56.69"/>
<line x1="724.58" y1="40.36" x2="724.58" y2="56.69"/>
<line x1="831.54" y1="56.69" x2="831.54" y2="103.90"/>
<line x1="902.85" y1="56.69" x2="902.85" y2="103.90"/>
<line x1="831.54" y1="56.69" x2="902.85" y2="56.69"/>
<line x1="867.19" y1="40.36" x2="867.19" y2="56.69"/>
<line x1="724.58" y1="40.36" x2="867.19" y2="40.36"/>
<line x1="795.88" y1="24.03" x2="795.88" y2="40.36"/>
<line x1="617.61" y1="24.03" x2="795.88" y2="24.03"/>
<line x1="706.75" y1="7.70" x2="706.75" y2="24.03"/>
<line x1="200.90" y1="7.70" x2="706.75" y2="7.70"/>
<line x1="40.20" y1="117.68" x2="81.30" y2="117.68"/>
<line x1="40.20" y1="142.25" x2="81.30" y2="142.25"/>
<line x1="40.20" y1="117.68" x2="40.20" y2="142.25"/>
<line x1="31.60" y1="129.96" x2="40.20" y2="129.96"/>
<line x1="40.20" y1="166.81" x2="81.30" y2="166.81"/>
<line x1="40.20" y1="191.37" x2="81.30" y2="191.37"/>
<line x1="40.20" y1="166.81" x2="40.20" y2="191.37"/>
<line x1="31.60" y1="179.09" x2="40.20" y2="179.09"/>
<line x1="31.60" y1="129.96" x2="31.60" y2="179.09"/>
<line x1="23.00" y1="154.53" x2="31.60" y2="154.53"/>
<line x1="40.20" y1="215.94" x2="81.30" y2="215.94"/>
<line x1="40.20" y1="240.50" x2="81.30" y2="240.50"/>
<line x1="40.20" y1="215.94" x2="40.20" y2="240.50"/>
<line x1="31.60" y1="228.22" x2="40.20" y2="228.22"/>
<line x1="40.20" y1="265.06" x2="81.30" y2="265.06"/>
<line x1="40.20" y1="289.63" x2="81.30" y2="289.63"/>
<line x1="40.20" y1="265.06" x2="40.20" y2="289.63"/>
<line x1="31.60" y1="277.34" x2="40.20" y2="277.34"/>
<line x1="31.60" y1="228.22" x2="31.60" y2="277.34"/>
<line x1="23.00" y1="252.78" x2="31.60" y2="252.78"/>
<line x1="23.00" y1="154.53" x2="23.00" y2="252.78"/>
<line x1="14.40" y1="203.65" x2="23.00" y2="203.65"/>
<line x1="40.20" y1="314.19" x2="81.30" y2="314.19"/>
<line x1="40.20" y1="338.75" x2="81.30" y2="338.75"/>
<line x1="40.20" y1="314.19" x2="40.20" y2="338.75"/>
<line x1="31.60" y1="326.47" x2="40.20" y2="326.47"/>
<line x1="48.80" y1="363.32" x2="81.30" y2="363.32"/>
<line x1="48.80" y1="387.88" x2="81.30" y2="387.88"/>
<line x1="48.80" y1="363.32" x2="48.80" y2="387.88"/>
<line x1="40.20" y1="375.60" x2="48.80" y2="375.60"/>
<line x1="66.00" y1="412.44" x2="81.30" y2="412.44"/>
<line x1="74.60" y1="437.01" x2="81.30" y2="437.01"/>
<line x1="74.60" y1="461.57" x2="81.30" y2="461.57"/>
<line x1="74.60" y1="437.01" x2="74.60" y2="461.57"/>
<line x1="66.00" y1="449.29" x2="74.60" y2="449.29"/>
<line x1="66.00" y1="412.44" x2="66.00" y2="449.29"/>
<line x1="57.40" y1="430.87" x2="66.00" y2="430.87"/>
<line x1="66.00" y1="486.13" x2="81.30" y2="486.13"/>
<line x1="74.60" y1="510.70" x2="81.30" y2="510.70"/>
<line x1="74.60" y1="535.26" x2="81.30" y2="535.26"/>
<line x1="74.60" y1="510.70" x2="74.60" y2="535.26"/>
<line x1="66.00" y1="522.98" x2="74.60" y2="522.98"/>
<line x1="66.00" y1="486.13" x2="66.00" y2="522.98"/>
<line x1="57.40" y1="504.56" x2="66.00" y2="504.56"/>
<line x1="57.40" y1="430.87" x2="57.40" y2="504.56"/>
<line x1="48.80" y1="467.71" x2="57.40" y2="467.71"/>
<line x1="57.40" y1="559.82" x2="81.30" y2="559.82"/>
<line x1="66.00" y1="584.39" x2="81.30" y2="584.39"/>
<line x1="66.00" y1="608.95" x2="81.30" y2="608.95"/>
<line x1="66.00" y1="584.39" x2="66.00" y2="608.95"/>
<line x1="57.40" y1="596.67" x2="66.00" y2="596.67"/>
<line x1="57.40" y1="559.82" x2="57.40" y2="596.67"/>
<line x1="48.80" y1="578.25" x2="57.40" y2="578.25"/>
<line x1="48.80" y1="467.71" x2="48.80" y2="578.25"/>
<line x1="40.20" y1="522.98" x2="48.80" y2="522.98"/>
<line x1="40.20" y1="375.60" x2="40.20" y2="522.98"/>
<line x1="31.60" y1="449.29" x2="40.20" y2="449.29"/>
<line x1="31.60" y1="326.47" x2="31.60" y2="449.29"/>
<line x1="23.00" y1="387.88" x2="31.60" y2="387.88"/>
<line x1="40.20" y1="633.51" x2="81.30" y2="633.51"/>
<line x1="57.40" y1="658.08" x2="81.30" y2="658.08"/>
<line x1="57.40" y1="682.64" x2="81.30" y2="682.64"/>
<line x1="57.40" y1="658.08" x2="57.40" y2="682.64"/>
<line x1="48.80" y1="670.36" x2="57.40" y2="670.36"/>
<line x1="57.40" y1="707.20" x2="81.30" y2="707.20"/>
<line x1="66.00" y1="731.77" x2="81.30" y2="731.77"/>
<line x1="66.00" y1="756.33" x2="81.30" y2="756.33"/>
<line x1="66.00" y1="731.77" x2="66.00" y2="756.33"/>
<line x1="57.40" y1="744.05" x2="66.00" y2="744.05"/>
<line x1="57.40" y1="707.20" x2="57.40" y2="744.05"/>
<line x1="48.80" y1="725.63" x2="57.40" y2="725.63"/>
<line x1="48.80" y1="670.36" x2="48.80" y2="725.63"/>
<line x1="40.20" y1="697.99" x2="48.80" y2="697.99"/>
<line x1="40.20" y1="633.51" x2="40.20" y2="697.99"/>
<line x1="31.60" y1="665.75" x2="40.20" y2="665.75"/>
<line x1="48.80" y1="780.89" x2="81.30" y2="780.89"/>
<line x1="57.40" y1="805.46" x2="81.30" y2="805.46"/>
<line x1="57.40" y1="830.02" x2="81.30" y2="830.02"/>
<line x1="57.40" y1="805.46" x2="57.40" y2="830.02"/>
<line x1="48.80" y1="817.74" x2="57.40" y2="817.74"/>
<line x1="48.80" y1="780.89" x2="48.80" y2="817.74"/>
<line x1="40.20" y1="799.32" x2="48.80" y2="799.32"/>
<line x1="48.80" y1="854.58" x2="81.30" y2="854.58"/>
<line x1="57.40" y1="879.15" x2="81.30" y2="879.15"/>
<line x1="57.40" y1="903.71" x2="81.30" y2="903.71"/>
<line x1="57.40" y1="879.15" x2="57.40" y2="903.71"/>
<line x1="48.80" y1="891.43" x2="57.40" y2="891.43"/>
<line x1="48.80" y1="854.58" x2="48.80" y2="891.43"/>
<line x1="40.20" y1="873.01" x2="48.80" y2="873.01"/>
<line x1="40.20" y1="799.32" x2="40.20" y2="873.01"/>
<line x1="31.60" y1="836.16" x2="40.20" y2="836.16"/>
<line x1="31.60" y1="665.75" x2="31.60" y2="836.16"/>
<line x1="23.00" y1="750.96" x2="31.60" y2="750.96"/>
<line x1="23.00" y1="387.88" x2="23.00" y2="750.96"/>
<line x1="14.40" y1="569.42" x2="23.00" y2="569.42"/>
<line x1="14.40" y1="203.65" x2="14.40" y2="569.42"/>
<line x1="5.80" y1="386.54" x2="14.40" y2="386.54"/>
<line x1="23.00" y1="928.27" x2="81.30" y2="928.27"/>
<line x1="40.20" y1="952.84" x2="81.30" y2="952.84"/>
<line x1="48.80" y1="977.40" x2="81.30" y2="977.40"/>
<line x1="48.80" y1="1001.96" x2="81.30" y2="1001.96"/>
<line x1="48.80" y1="977.40" x2="48.80" y2="1001.96"/>
<line x1="40.20" y1="989.68" x2="48.80" y2="989.68"/>
<line x1="40.20" y1="952.84" x2="40.20" y2="989.68"/>
<line x1="31.60" y1="971.26" x2="40.20" y2="971.26"/>
<line x1="40.20" y1="1026.53" x2="81.30" y2="1026.53"/>
<line x1="40.20" y1="1051.09" x2="81.30" y2="1051.09"/>
<line x1="40.20" y1="1026.53" x2="40.20" y2="1051.09"/>
<line x1="31.60" y1="1038.81" x2="40.20" y2="1038.81"/>
<line x1="31.60" y1="971.26" x2="31.60" y2="1038.81"/>
<line x1="23.00" y1="1005.04" x2="31.60" y2="1005.04"/>
<line x1="23.00" y1="928.27" x2="23.00" y2="1005.04"/>
<line x1="14.40" y1="966.65" x2="23.00" y2="966.65"/>
<line x1="23.00" y1="1075.65" x2="81.30" y2="1075.65"/>
<line x1="23.00" y1="1100.22" x2="81.30" y2="1100.22"/>
<line x1="23.00" y1="1075.65" x2="23.00" y2="1100.22"/>
<line x1="14.40" y1="1087.94" x2="23.00" y2="1087.94"/>
<line x1="14.40" y1="966.65" x2="14.40" y2="1087.94"/>
<line x1="5.80" y1="1027.30" x2="14.40" y2="1027.30"/>
<line x1="5.80" y1="386.54" x2="5.80" y2="1027.30"/>
</g>
<defs><linearGradient id="cb" gradientUnits="userSpaceOnUse" x1="0" y1="373.80" x2="0" y2="158.80">
<stop offset="0.000" stop-color="#2e56b0"/>
<stop offset="0.472" stop-color="#f0ecaa"/>
<stop offset="1.000" stop-color="#cc1618"/>
</linearGradient></defs>
<rect x="1125.30" y="158.30" width="27.70" height="216.20" fill="url(#cb)"/>
<g stroke="#222" stroke-width="1.5">
<line x1="1153.00" y1="158.30" x2="1153.00" y2="374.50"/>
<line x1="1153.00" y1="373.80" x2="1158.00" y2="373.80"/>
<line x1="1153.00" y1="330.80" x2="1158.00" y2="330.80"/>
<line x1="1153.00" y1="287.80" x2="1158.00" y2="287.80"/>
<line x1="1153.00" y1="244.80" x2="1158.00" y2="244.80"/>
<line x1="1153.00" y1="201.80" x2="1158.00" y2="201.80"/>
<line x1="1153.00" y1="158.80" x2="1158.00" y2="158.80"/>
</g>
<g font-size="21.00" fill="#111" opacity="0.996">
<text transform="translate(1161.3,380.73) scale(1,1.08)">0.00</text>
<text transform="translate(1161.3,337.73) scale(1,1.08)">2.00</text>
<text transform="translate(1161.3,294.73) scale(1,1.08)">4.00</text>
<text transform="translate(1161.3,251.73) scale(1,1.08)">6.00</text>
<text transform="translate(1161.3,208.73) scale(1,1.08)">8.00</text>
<text transform="translate(1161.3,165.73) scale(1,1.08)">10.00</text>
</g>
</svg>
</body></html>
